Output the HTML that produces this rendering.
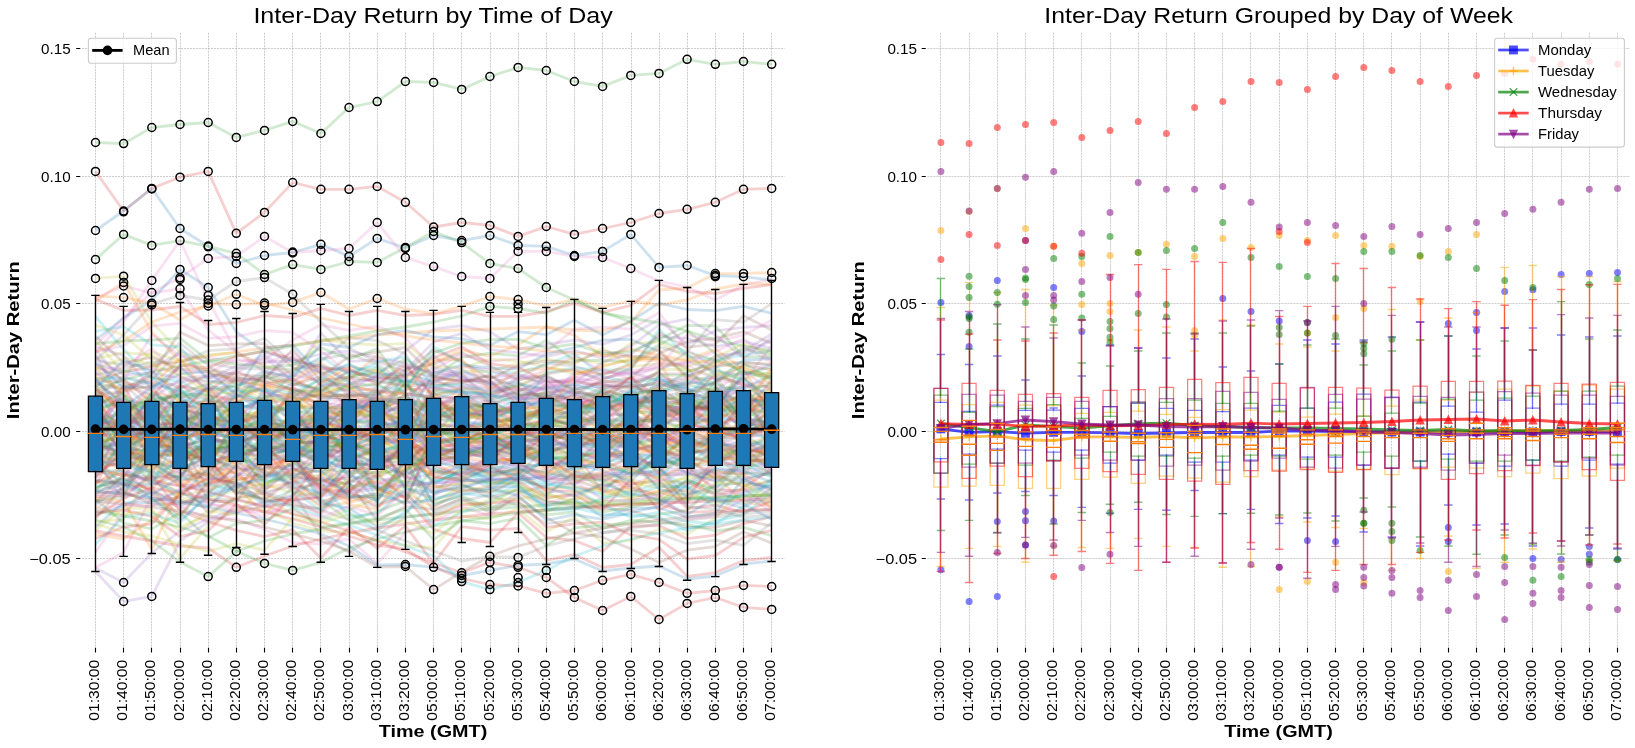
<!DOCTYPE html>
<html><head><meta charset="utf-8"><title>Inter-Day Return</title>
<style>html,body{margin:0;padding:0;background:#fff}svg{display:block;will-change:transform}</style></head>
<body>
<svg width="1635" height="748" viewBox="0 0 1635 748">
<style>text{font-family:"Liberation Sans",sans-serif;fill:#000}.t{font-size:14.1px}.ti{font-size:22.6px}.lb{font-size:16.9px;font-weight:bold}</style>
<rect width="1635" height="748" fill="#fff"/>
<path d="M95.5 32.7V648M123.5 32.7V648M151.5 32.7V648M180.5 32.7V648M208.5 32.7V648M236.5 32.7V648M264.5 32.7V648M292.5 32.7V648M320.5 32.7V648M349.5 32.7V648M377.5 32.7V648M405.5 32.7V648M433.5 32.7V648M461.5 32.7V648M490.5 32.7V648M518.5 32.7V648M546.5 32.7V648M574.5 32.7V648M602.5 32.7V648M631.5 32.7V648M659.5 32.7V648M687.5 32.7V648M715.5 32.7V648M743.5 32.7V648M771.5 32.7V648M81.9 48.5H784.5M81.9 176.5H784.5M81.9 303.5H784.5M81.9 431.5H784.5M81.9 558.5H784.5" stroke="#b0b0b0" stroke-opacity="0.78" stroke-width="0.8" stroke-dasharray="2.1 0.9" fill="none"/>
<g fill="none" stroke-width="2.8" stroke-opacity="0.22" stroke-linejoin="round">
<path d="M95.5 419.5L123.6 467.5L151.8 448.1L180 453.9L208.2 446.4L236.3 457.2L264.5 447.1L292.7 452.8L320.9 458L349 471.2L377.2 501L405.4 457.2L433.6 465.4L461.7 461.5L489.9 467.1L518.1 468.3L546.3 481.1L574.4 468.1L602.6 466.4L630.8 473.8L659 470.5L687.1 454L715.3 447.6L743.5 441.7L771.7 445" stroke="#1f77b4"/>
<path d="M95.5 399.3L123.6 446.2L151.8 418.9L180 401.3L208.2 402.6L236.3 398.9L264.5 384.9L292.7 380.3L320.9 363.4L349 379.6L377.2 355L405.4 378.4L433.6 362.2L461.7 349.9L489.9 356.3L518.1 344.9L546.3 326.8L574.4 335.2L602.6 356.1L630.8 349.1L659 355.4L687.1 359.9L715.3 349.2L743.5 369.2L771.7 414.4" stroke="#ff7f0e"/>
<path d="M95.5 442.4L123.6 436.9L151.8 432.1L180 445.4L208.2 440.6L236.3 454.5L264.5 482.1L292.7 478L320.9 500.2L349 519.8L377.2 511.5L405.4 500.8L433.6 468.7L461.7 479.7L489.9 482.6L518.1 484.3L546.3 502.4L574.4 502.4L602.6 512.2L630.8 506.5L659 502.6L687.1 479.3L715.3 493.3L743.5 472.5L771.7 475.2" stroke="#2ca02c"/>
<path d="M95.5 142.5L123.6 143.6L151.8 127.5L180 124.5L208.2 122.5L236.3 137.4L264.5 130.4L292.7 121.4L320.9 133.5L349 107.5L377.2 101.6L405.4 81.5L433.6 82.4L461.7 89.4L489.9 76.5L518.1 67.4L546.3 70.5L574.4 81.5L602.6 86.4L630.8 75.4L659 73.4L687.1 59.3L715.3 64.3L743.5 61.5L771.7 64.3" stroke="#2ca02c"/>
<path d="M95.5 482.4L123.6 472.4L151.8 493.2L180 515.1L208.2 482.8L236.3 480.5L264.5 473.2L292.7 472.7L320.9 450L349 450L377.2 488.6L405.4 497.5L433.6 529.2L461.7 538.5L489.9 542.5L518.1 512.7L546.3 537.4L574.4 540.5L602.6 551.5L630.8 526.4L659 525.5L687.1 538.7L715.3 535.2L743.5 523.6L771.7 516.6" stroke="#d62728"/>
<path d="M95.5 452.1L123.6 439L151.8 430.5L180 462.2L208.2 445L236.3 455.1L264.5 427.2L292.7 452.3L320.9 456.3L349 455.5L377.2 469.3L405.4 441.4L433.6 387.2L461.7 393.6L489.9 397.7L518.1 392.9L546.3 419.3L574.4 423.1L602.6 420.5L630.8 418L659 439.1L687.1 441.8L715.3 445.3L743.5 427.1L771.7 418.8" stroke="#9467bd"/>
<path d="M95.5 488.6L123.6 476.9L151.8 439.5L180 458L208.2 458.8L236.3 489.1L264.5 456.5L292.7 438.1L320.9 413.8L349 404.4L377.2 408.4L405.4 400.6L433.6 407.6L461.7 411.4L489.9 416.3L518.1 402.4L546.3 391.7L574.4 392.1L602.6 396.5L630.8 409.7L659 383.5L687.1 379.9L715.3 377.1L743.5 382.6L771.7 407.2" stroke="#8c564b"/>
<path d="M95.5 416L123.6 426.9L151.8 401.3L180 416.9L208.2 422.2L236.3 429.8L264.5 422.6L292.7 455L320.9 459.6L349 468.4L377.2 442.7L405.4 457.8L433.6 440.1L461.7 425L489.9 428.6L518.1 432L546.3 434.1L574.4 431.5L602.6 445.3L630.8 441.2L659 413.4L687.1 420.8L715.3 427.3L743.5 439.5L771.7 430.7" stroke="#e377c2"/>
<path d="M95.5 171.4L123.6 211L151.8 188.4L180 177.2L208.2 171.4L236.3 233.3L264.5 212.4L292.7 182.5L320.9 189.3L349 189.3L377.2 186.4L405.4 202.3L433.6 227L461.7 222.5L489.9 225.4L518.1 236.4L546.3 226.5L574.4 234.4L602.6 228.5L630.8 222.5L659 213.5L687.1 209.3L715.3 202.3L743.5 189.3L771.7 188.4" stroke="#d62728"/>
<path d="M95.5 349.6L123.6 383.2L151.8 410.9L180 383.6L208.2 409.4L236.3 396.2L264.5 372.4L292.7 376.4L320.9 361.3L349 337.9L377.2 340.5L405.4 354L433.6 398.4L461.7 397.6L489.9 396.8L518.1 383.3L546.3 390.7L574.4 401.4L602.6 411.8L630.8 405.8L659 410.3L687.1 410.2L715.3 403.6L743.5 411.4L771.7 411.8" stroke="#7f7f7f"/>
<path d="M95.5 456.6L123.6 451.4L151.8 448.8L180 441L208.2 392.9L236.3 392.6L264.5 389L292.7 426.1L320.9 416.2L349 457.2L377.2 476.3L405.4 453.5L433.6 433.5L461.7 433.3L489.9 450.6L518.1 454.3L546.3 461.2L574.4 455.2L602.6 426.4L630.8 424.2L659 439.9L687.1 450.4L715.3 452.1L743.5 455.3L771.7 465.2" stroke="#bcbd22"/>
<path d="M95.5 463.3L123.6 459.1L151.8 480.8L180 458.8L208.2 425.1L236.3 403.3L264.5 412L292.7 406.5L320.9 408.6L349 418.7L377.2 422.9L405.4 448.8L433.6 484.2L461.7 469.1L489.9 476.4L518.1 472.5L546.3 460.4L574.4 485.7L602.6 496.4L630.8 492L659 483.1L687.1 489.1L715.3 467.4L743.5 463.6L771.7 477.6" stroke="#17becf"/>
<path d="M95.5 393L123.6 422.2L151.8 400.2L180 396.1L208.2 443.5L236.3 412L264.5 397.6L292.7 383.8L320.9 389.9L349 397.6L377.2 419L405.4 373.2L433.6 382L461.7 369.5L489.9 384.1L518.1 382.1L546.3 402.4L574.4 403.2L602.6 390L630.8 408.7L659 391.7L687.1 388L715.3 415.8L743.5 424.2L771.7 426.5" stroke="#1f77b4"/>
<path d="M95.5 230.5L123.6 211L151.8 188.4L180 228.5L208.2 246.3L236.3 263.5L264.5 255.5L292.7 252.5L320.9 244.3L349 256.4L377.2 238.4L405.4 248L433.6 235.5L461.7 240.6L489.9 235.5L518.1 245.4L546.3 246.3L574.4 255.5L602.6 251.4L630.8 234.4L659 267.4L687.1 265.5L715.3 275.6L743.5 276.7L771.7 280" stroke="#1f77b4"/>
<path d="M95.5 395.1L123.6 407.1L151.8 420.6L180 447.7L208.2 450.2L236.3 465.3L264.5 488.1L292.7 482.5L320.9 463L349 489.1L377.2 481.2L405.4 493.1L433.6 507.3L461.7 489.5L489.9 492.1L518.1 477.6L546.3 488.8L574.4 487L602.6 490.6L630.8 499.5L659 490.8L687.1 490.5L715.3 472L743.5 473.8L771.7 490.8" stroke="#ff7f0e"/>
<path d="M95.5 411.6L123.6 424.6L151.8 419.7L180 404.2L208.2 422.9L236.3 426.1L264.5 458.8L292.7 447.1L320.9 464.8L349 496.7L377.2 496.6L405.4 461.1L433.6 503.5L461.7 496.2L489.9 507.2L518.1 503.2L546.3 514.8L574.4 512.2L602.6 528.6L630.8 520.1L659 522.3L687.1 524.4L715.3 531L743.5 527.3L771.7 535.6" stroke="#2ca02c"/>
<path d="M95.5 484.9L123.6 435.4L151.8 438.9L180 434.3L208.2 435.6L236.3 435L264.5 425.7L292.7 392L320.9 412.9L349 444.7L377.2 450.7L405.4 477.9L433.6 449.3L461.7 442.6L489.9 451.3L518.1 464.6L546.3 473.8L574.4 451.2L602.6 492L630.8 486.6L659 496.4L687.1 482.1L715.3 494.9L743.5 488.8L771.7 507.8" stroke="#d62728"/>
<path d="M95.5 422.9L123.6 452.9L151.8 413.6L180 402.4L208.2 411.7L236.3 437.4L264.5 466.1L292.7 469.6L320.9 467.5L349 463L377.2 459.2L405.4 478.9L433.6 474L461.7 467L489.9 460.4L518.1 434.8L546.3 437.6L574.4 449.6L602.6 450.8L630.8 456.9L659 465.4L687.1 472L715.3 481.7L743.5 465.4L771.7 466.3" stroke="#9467bd"/>
<path d="M95.5 259.5L123.6 234.4L151.8 245.4L180 240.6L208.2 246.3L236.3 253.3L264.5 274.5L292.7 264.6L320.9 269.4L349 261.5L377.2 262.4L405.4 247.4L433.6 231.5L461.7 242.6L489.9 263.5L518.1 268.5L546.3 287.5L574.4 300L602.6 312L630.8 322L659 340L687.1 352L715.3 360L743.5 371L771.7 380" stroke="#2ca02c"/>
<path d="M95.5 380.9L123.6 381.9L151.8 390.1L180 411.2L208.2 437L236.3 443.9L264.5 449.2L292.7 444.6L320.9 439.5L349 460.5L377.2 449.1L405.4 476.8L433.6 486.8L461.7 483.8L489.9 497.9L518.1 490L546.3 500.7L574.4 506L602.6 508.2L630.8 510.5L659 519.4L687.1 527.4L715.3 527.3L743.5 520.3L771.7 526" stroke="#8c564b"/>
<path d="M95.5 508.9L123.6 490.3L151.8 483.1L180 485.6L208.2 485L236.3 470.7L264.5 494.9L292.7 481.4L320.9 475.1L349 461.3L377.2 445.9L405.4 459.8L433.6 459.9L461.7 455.9L489.9 453.5L518.1 445.3L546.3 467.2L574.4 458.5L602.6 443.7L630.8 431.2L659 433.8L687.1 449.5L715.3 441L743.5 443.1L771.7 476.4" stroke="#e377c2"/>
<path d="M95.5 453L123.6 443.3L151.8 474.2L180 500.2L208.2 508.4L236.3 473.9L264.5 476.5L292.7 462.9L320.9 425L349 402.5L377.2 409.3L405.4 409.1L433.6 448L461.7 453.9L489.9 448.5L518.1 442L546.3 439.7L574.4 430L602.6 438.3L630.8 443.5L659 436.8L687.1 428.4L715.3 413.8L743.5 397.5L771.7 402.6" stroke="#7f7f7f"/>
<path d="M95.5 530.2L123.6 507.9L151.8 508.7L180 558.3L208.2 525.7L236.3 508.8L264.5 509.1L292.7 522.8L320.9 531.2L349 532L377.2 540.6L405.4 545.4L433.6 547.8L461.7 516.2L489.9 518.9L518.1 508.8L546.3 531.8L574.4 517.3L602.6 543.2L630.8 540.7L659 529.3L687.1 534.4L715.3 518.4L743.5 486.2L771.7 481.1" stroke="#bcbd22"/>
<path d="M95.5 352L123.6 322L151.8 280.4L180 240.6L208.2 300L236.3 352L264.5 372L292.7 380L320.9 395L349 401L377.2 398L405.4 407L433.6 402L461.7 410L489.9 412L518.1 405L546.3 401L574.4 399L602.6 404L630.8 409L659 411L687.1 406L715.3 402L743.5 399L771.7 401" stroke="#e377c2"/>
<path d="M95.5 503.9L123.6 487.9L151.8 463L180 479.8L208.2 470.6L236.3 448.8L264.5 403.2L292.7 412.4L320.9 412.1L349 412.6L377.2 386.9L405.4 390.2L433.6 346.4L461.7 363.2L489.9 373.2L518.1 372.4L546.3 364.8L574.4 353.3L602.6 376.6L630.8 382.6L659 378.8L687.1 389.1L715.3 425.4L743.5 398.6L771.7 387.7" stroke="#17becf"/>
<path d="M95.5 526.9L123.6 502.7L151.8 502.6L180 490.6L208.2 483.9L236.3 456.5L264.5 470.9L292.7 483.7L320.9 477.5L349 484.5L377.2 461.8L405.4 455.3L433.6 481.6L461.7 472L489.9 477.4L518.1 467.4L546.3 482.4L574.4 484.6L602.6 463.6L630.8 435.3L659 406.2L687.1 408.3L715.3 407.8L743.5 373.1L771.7 376.8" stroke="#1f77b4"/>
<path d="M95.5 439.8L123.6 461.5L151.8 455.9L180 452.4L208.2 460.5L236.3 486.5L264.5 514L292.7 487.4L320.9 506.9L349 502.7L377.2 495.2L405.4 467.2L433.6 472.7L461.7 463L489.9 475.4L518.1 474.2L546.3 490.2L574.4 482.2L602.6 473.5L630.8 490.7L659 492.1L687.1 499.7L715.3 474.8L743.5 502.4L771.7 505.9" stroke="#ff7f0e"/>
<path d="M95.5 500.8L123.6 496.7L151.8 437L180 416.1L208.2 420L236.3 406L264.5 373.8L292.7 382.6L320.9 388.9L349 375.9L377.2 372.8L405.4 359.1L433.6 377.3L461.7 357.3L489.9 353.2L518.1 355.8L546.3 340.3L574.4 360.3L602.6 360.3L630.8 361.8L659 344.8L687.1 330.4L715.3 353.5L743.5 374.4L771.7 367" stroke="#2ca02c"/>
<path d="M95.5 345L123.6 318L151.8 292.5L180 277.8L208.2 258.4L236.3 256.4L264.5 236.4L292.7 252.5L320.9 250.5L349 248.5L377.2 222.5L405.4 257.5L433.6 266.6L461.7 276.5L489.9 278.4L518.1 251.4L546.3 251.4L574.4 256.4L602.6 257.5L630.8 268.5L659 281L687.1 287L715.3 300L743.5 285L771.7 279" stroke="#e377c2"/>
<path d="M95.5 400.3L123.6 433.1L151.8 433.8L180 456.3L208.2 457.2L236.3 494.9L264.5 467.4L292.7 457.2L320.9 435L349 400.5L377.2 402.2L405.4 438.1L433.6 456.3L461.7 463.7L489.9 472.4L518.1 470.8L546.3 491.6L574.4 490.7L602.6 506.3L630.8 502.9L659 504.4L687.1 512.4L715.3 511.3L743.5 510.1L771.7 509.7" stroke="#d62728"/>
<path d="M95.5 406.1L123.6 459.9L151.8 455.3L180 413.6L208.2 384.8L236.3 369.8L264.5 354.4L292.7 375.1L320.9 333.2L349 361.3L377.2 360L405.4 367L433.6 372.1L461.7 377.3L489.9 385.3L518.1 397.7L546.3 400.4L574.4 372.5L602.6 377.8L630.8 373.4L659 368.3L687.1 361.6L715.3 370.9L743.5 375.6L771.7 363.8" stroke="#9467bd"/>
<path d="M95.5 434.7L123.6 433.8L151.8 423.9L180 391.8L208.2 410.2L236.3 411.2L264.5 418.6L292.7 394.8L320.9 429.7L349 447L377.2 444.3L405.4 440.8L433.6 421.4L461.7 398.8L489.9 425.8L518.1 414.9L546.3 416L574.4 427.7L602.6 421.3L630.8 433.8L659 460.9L687.1 466.3L715.3 490.3L743.5 490.2L771.7 479.9" stroke="#8c564b"/>
<path d="M95.5 567.5L123.6 552.4L151.8 496.1L180 506.9L208.2 518.4L236.3 518.7L264.5 529.5L292.7 542.5L320.9 544L349 539L377.2 563.4L405.4 532.5L433.6 522L461.7 507.2L489.9 515.3L518.1 494L546.3 504.2L574.4 493.4L602.6 485.2L630.8 485.3L659 473.2L687.1 504.8L715.3 496.5L743.5 491.6L771.7 485.8" stroke="#e377c2"/>
<path d="M95.5 360L123.6 335L151.8 304L180 295.4L208.2 300L236.3 281.5L264.5 277.6L292.7 294.3L320.9 322L349 348L377.2 362L405.4 371L433.6 377L461.7 380L489.9 384L518.1 390L546.3 387L574.4 392L602.6 395L630.8 399L659 397L687.1 401L715.3 404L743.5 402L771.7 400" stroke="#7f7f7f"/>
<path d="M95.5 457.6L123.6 486.8L151.8 446.3L180 447L208.2 465.6L236.3 493.4L264.5 492L292.7 486.2L320.9 505.1L349 495.4L377.2 507.7L405.4 481.1L433.6 490.9L461.7 487.1L489.9 478.4L518.1 450L546.3 462L574.4 470.7L602.6 477.4L630.8 466.5L659 485.6L687.1 492L715.3 491.8L743.5 500.7L771.7 502.4" stroke="#7f7f7f"/>
<path d="M95.5 424.6L123.6 441.1L151.8 486.7L180 526.9L208.2 515.5L236.3 496.5L264.5 497.9L292.7 514.2L320.9 520.3L349 509.9L377.2 498L405.4 485.6L433.6 501.8L461.7 486L489.9 490.8L518.1 491.2L546.3 512.4L574.4 497.6L602.6 501.1L630.8 482.7L659 488.1L687.1 476.5L715.3 470.5L743.5 476.2L771.7 437.4" stroke="#bcbd22"/>
<path d="M95.5 409.8L123.6 398.3L151.8 412.7L180 421.5L208.2 413.3L236.3 395.4L264.5 399.4L292.7 441.6L320.9 442.4L349 439.5L377.2 432.6L405.4 415.1L433.6 399.5L461.7 389.9L489.9 411.7L518.1 408.5L546.3 372.6L574.4 367.8L602.6 370.2L630.8 369.5L659 329.2L687.1 356.1L715.3 360.7L743.5 354.9L771.7 350.7" stroke="#17becf"/>
<path d="M95.5 514.6L123.6 506.1L151.8 491.8L180 505.1L208.2 495.1L236.3 485.2L264.5 504.9L292.7 494.5L320.9 478.6L349 494.1L377.2 499.5L405.4 469.5L433.6 493.8L461.7 484.9L489.9 493.5L518.1 479.4L546.3 458.8L574.4 435.3L602.6 434.5L630.8 427.7L659 431L687.1 430.1L715.3 401.5L743.5 431L771.7 399.6" stroke="#1f77b4"/>
<path d="M95.5 340L123.6 318L151.8 300L180 269.4L208.2 287.5L236.3 332L264.5 352L292.7 361L320.9 366L349 372L377.2 377L405.4 381L433.6 388L461.7 392L489.9 395L518.1 399L546.3 396L574.4 394L602.6 398L630.8 401L659 404L687.1 400L715.3 397L743.5 399L771.7 402" stroke="#1f77b4"/>
<path d="M95.5 455.7L123.6 455.2L151.8 416.3L180 415.3L208.2 432.8L236.3 425.4L264.5 406.8L292.7 411.4L320.9 400.2L349 416.1L377.2 445.1L405.4 439L433.6 412.3L461.7 406.3L489.9 414.1L518.1 406.8L546.3 408.9L574.4 419.2L602.6 419.6L630.8 402.9L659 427.1L687.1 405.5L715.3 423.5L743.5 437.3L771.7 416.2" stroke="#ff7f0e"/>
<path d="M95.5 487.4L123.6 479L151.8 497.6L180 517.6L208.2 480.5L236.3 452.5L264.5 457.3L292.7 447.6L320.9 425.8L349 441L377.2 430.4L405.4 437.2L433.6 446.6L461.7 453.3L489.9 449.9L518.1 446.6L546.3 454.1L574.4 462L602.6 446.8L630.8 445.8L659 437.6L687.1 419.9L715.3 411.8L743.5 363.4L771.7 379.3" stroke="#2ca02c"/>
<path d="M95.5 477.4L123.6 452.1L151.8 454.6L180 412.8L208.2 387L236.3 420L264.5 442.3L292.7 429.5L320.9 411.2L349 401.5L377.2 406.7L405.4 395.8L433.6 378.5L461.7 380.8L489.9 380.4L518.1 405.1L546.3 395.5L574.4 408.5L602.6 390.9L630.8 396.7L659 415.4L687.1 409.3L715.3 429.2L743.5 441L771.7 459.4" stroke="#d62728"/>
<path d="M95.5 364.2L123.6 372L151.8 367.8L180 353.5L208.2 378.8L236.3 366.1L264.5 361.8L292.7 361L320.9 354L349 351L377.2 357.6L405.4 363.3L433.6 374.8L461.7 376.1L489.9 395.8L518.1 376.9L546.3 382.5L574.4 379.4L602.6 389.1L630.8 381.5L659 376.3L687.1 385.7L715.3 359.1L743.5 351L771.7 334" stroke="#9467bd"/>
<path d="M95.5 352L123.6 341L151.8 322L180 312L208.2 306L236.3 294.3L264.5 305.3L292.7 302.4L320.9 292.5L349 309L377.2 298.5L405.4 309L433.6 314L461.7 306.4L489.9 296.5L518.1 299.6L546.3 306L574.4 299L602.6 307L630.8 301L659 305L687.1 300L715.3 289L743.5 284L771.7 284" stroke="#ff7f0e"/>
<path d="M95.5 476.1L123.6 450.6L151.8 459.4L180 473.9L208.2 454L236.3 451.3L264.5 448.5L292.7 449.7L320.9 486.8L349 482.3L377.2 520.8L405.4 506.5L433.6 509.4L461.7 499.3L489.9 512.2L518.1 497.2L546.3 517.4L574.4 533.1L602.6 537.2L630.8 548.9L659 562.5L687.1 550.1L715.3 546.6L743.5 531.8L771.7 543.1" stroke="#8c564b"/>
<path d="M95.5 423.8L123.6 420.6L151.8 425.6L180 432.1L208.2 418.6L236.3 389.8L264.5 383.8L292.7 390.1L320.9 406L349 398.5L377.2 407.6L405.4 389.2L433.6 388.1L461.7 378.5L489.9 404.4L518.1 410.9L546.3 397.4L574.4 397.3L602.6 413.6L630.8 415.3L659 442.2L687.1 437.6L715.3 390.3L743.5 370.5L771.7 391.2" stroke="#e377c2"/>
<path d="M95.5 371.9L123.6 395.3L151.8 409.1L180 389.6L208.2 412.5L236.3 432.1L264.5 405.1L292.7 396.7L320.9 403.2L349 422.8L377.2 446.7L405.4 461.7L433.6 511.5L461.7 497.7L489.9 509.5L518.1 492.6L546.3 486.2L574.4 474.2L602.6 486.5L630.8 476.4L659 454.9L687.1 468.4L715.3 477.6L743.5 477.4L771.7 497.7" stroke="#7f7f7f"/>
<path d="M95.5 461.4L123.6 423L151.8 479.7L180 498.7L208.2 498L236.3 490.5L264.5 483.3L292.7 473.8L320.9 476.3L349 453.9L377.2 491.2L405.4 480L433.6 488.2L461.7 482.7L489.9 481.6L518.1 483.3L546.3 499.1L574.4 492L602.6 487.9L630.8 498L659 462.7L687.1 434.3L715.3 456.1L743.5 449.8L771.7 398.7" stroke="#bcbd22"/>
<path d="M95.5 278.4L123.6 276.2L151.8 322L180 352L208.2 371L236.3 380L264.5 386L292.7 391L320.9 395L349 399L377.2 402L405.4 404L433.6 407L461.7 409L489.9 411L518.1 409L546.3 406L574.4 404L602.6 407L630.8 410L659 412L687.1 409L715.3 407L743.5 405L771.7 404" stroke="#bcbd22"/>
<path d="M95.5 429.6L123.6 411.5L151.8 406.2L180 418.4L208.2 429.3L236.3 440.9L264.5 445L292.7 430.4L320.9 433.5L349 443.9L377.2 455.7L405.4 455.9L433.6 480.3L461.7 477.7L489.9 469.3L518.1 462.6L546.3 454.9L574.4 452L602.6 454.1L630.8 454.4L659 456.6L687.1 447.8L715.3 461L743.5 445.3L771.7 439" stroke="#17becf"/>
<path d="M95.5 410.7L123.6 440.4L151.8 450L180 468.4L208.2 458L236.3 467.5L264.5 441.6L292.7 453.9L320.9 503.4L349 507.9L377.2 526.9L405.4 514L433.6 479.1L461.7 464.5L489.9 480.5L518.1 480.4L546.3 476.2L574.4 466.5L602.6 464.5L630.8 452L659 421.3L687.1 397.7L715.3 392.6L743.5 388.2L771.7 375.4" stroke="#1f77b4"/>
<path d="M95.5 415.2L123.6 439.7L151.8 460.8L180 463.9L208.2 476.2L236.3 471.8L264.5 464.5L292.7 416.2L320.9 430.4L349 432.6L377.2 431.9L405.4 430.9L433.6 390.1L461.7 395.5L489.9 414.8L518.1 429.8L546.3 439L574.4 436.7L602.6 433L630.8 450.4L659 451.6L687.1 453.1L715.3 449.1L743.5 456.1L771.7 454.7" stroke="#ff7f0e"/>
<path d="M95.5 499.4L123.6 523.1L151.8 528.9L180 512.8L208.2 537.8L236.3 523.6L264.5 520.4L292.7 508.2L320.9 526.9L349 523.1L377.2 518.2L405.4 508.8L433.6 539.6L461.7 520.5L489.9 523.6L518.1 518.1L546.3 545.4L574.4 527.9L602.6 525.2L630.8 523.1L659 514.3L687.1 510.4L715.3 484.5L743.5 460.2L771.7 461.3" stroke="#2ca02c"/>
<path d="M95.5 301L123.6 282.4L151.8 332L180 361L208.2 372L236.3 381L264.5 385L292.7 389L320.9 393L349 396L377.2 399L405.4 401L433.6 403L461.7 406L489.9 408L518.1 409L546.3 407L574.4 405L602.6 404L630.8 406L659 409L687.1 411L715.3 408L743.5 406L771.7 405" stroke="#ff7f0e"/>
<path d="M95.5 413.4L123.6 429.2L151.8 405.3L180 446.2L208.2 439.9L236.3 446.3L264.5 451.3L292.7 480.3L320.9 501.8L349 492.8L377.2 460.9L405.4 447.6L433.6 444L461.7 446.9L489.9 456.5L518.1 447.3L546.3 450.4L574.4 445.8L602.6 424.7L630.8 425.1L659 447.6L687.1 460.5L715.3 473.4L743.5 487.5L771.7 469" stroke="#d62728"/>
<path d="M95.5 346.9L123.6 355.5L151.8 389.1L180 382.4L208.2 377.4L236.3 380L264.5 392L292.7 399.4L320.9 394.1L349 389.2L377.2 375.8L405.4 351L433.6 329.2L461.7 325.6L489.9 331.7L518.1 349.2L546.3 344.6L574.4 340L602.6 344.4L630.8 334.9L659 319.5L687.1 344.5L715.3 330.8L743.5 327.3L771.7 325.6" stroke="#9467bd"/>
<path d="M95.5 518.9L123.6 485.6L151.8 456.6L180 454.7L208.2 499.5L236.3 500L264.5 506.9L292.7 503.5L320.9 512.8L349 480.1L377.2 487.3L405.4 504.5L433.6 428.4L461.7 434.2L489.9 445L518.1 440.7L546.3 436.9L574.4 448.8L602.6 433.8L630.8 445L659 454.1L687.1 454.9L715.3 446.8L743.5 452.9L771.7 444.1" stroke="#8c564b"/>
<path d="M95.5 373.3L123.6 380.6L151.8 334.4L180 356.3L208.2 357.9L236.3 361.7L264.5 359.6L292.7 339.9L320.9 324.8L349 330.3L377.2 326.4L405.4 337.9L433.6 369.1L461.7 355.1L489.9 361.6L518.1 358.6L546.3 351.4L574.4 329.1L602.6 327.2L630.8 329.2L659 312.7L687.1 349.6L715.3 368.2L743.5 346.5L771.7 362.2" stroke="#e377c2"/>
<path d="M95.5 298L123.6 286L151.8 293L180 288.8L208.2 330L236.3 352L264.5 367L292.7 375L320.9 381L349 386L377.2 391L405.4 394L433.6 397L461.7 399L489.9 402L518.1 404L546.3 405L574.4 403L602.6 401L630.8 404L659 406L687.1 408L715.3 406L743.5 404L771.7 403" stroke="#e377c2"/>
<path d="M95.5 408.9L123.6 386.7L151.8 379.7L180 350.5L208.2 363.2L236.3 368L264.5 369.2L292.7 368.9L320.9 365.3L349 383.1L377.2 385.8L405.4 361.3L433.6 416L461.7 407.4L489.9 426.5L518.1 423.3L546.3 410.7L574.4 416.8L602.6 399.6L630.8 426L659 409.3L687.1 425L715.3 417.7L743.5 409.3L771.7 448.4" stroke="#7f7f7f"/>
<path d="M95.5 467.3L123.6 475.8L151.8 469.7L180 433.6L208.2 423.6L236.3 416.9L264.5 449.9L292.7 417.1L320.9 387.8L349 390.2L377.2 389.1L405.4 429.1L433.6 392.9L461.7 371L489.9 371.5L518.1 363.3L546.3 358.9L574.4 364.2L602.6 347.9L630.8 366.6L659 363.9L687.1 366.5L715.3 357.3L743.5 344.1L771.7 352.8" stroke="#bcbd22"/>
<path d="M95.5 316.5L123.6 349.3L151.8 378.4L180 381.1L208.2 397.4L236.3 434.3L264.5 455L292.7 457.8L320.9 498.7L349 512L377.2 530.6L405.4 511.2L433.6 495.3L461.7 465.9L489.9 483.7L518.1 482.3L546.3 484.9L574.4 488.2L602.6 493.4L630.8 463.8L659 469.1L687.1 487.7L715.3 507.1L743.5 493L771.7 483.4" stroke="#17becf"/>
<path d="M95.5 377.2L123.6 416.5L151.8 445L180 431.3L208.2 417.1L236.3 436.9L264.5 414.5L292.7 408.5L320.9 443.9L349 449.3L377.2 434.1L405.4 448.2L433.6 505.4L461.7 494.7L489.9 489.5L518.1 473.3L546.3 495.9L574.4 471.9L602.6 481.3L630.8 468.3L659 450L687.1 440.1L715.3 438.1L743.5 454.5L771.7 442.4" stroke="#1f77b4"/>
<path d="M95.5 380L123.6 372L151.8 366L180 361L208.2 356L236.3 352L264.5 348L292.7 345L320.9 341L349 338L377.2 335L405.4 333L433.6 331L461.7 330L489.9 329L518.1 328L546.3 327L574.4 330L602.6 331L630.8 322L659 290L687.1 288L715.3 273.6L743.5 273.4L771.7 272.5" stroke="#ff7f0e"/>
<path d="M95.5 497.9L123.6 501.1L151.8 549.5L180 489.3L208.2 462.1L236.3 420.8L264.5 440.9L292.7 413.3L320.9 383.1L349 367L377.2 371.3L405.4 388.3L433.6 391.9L461.7 423.1L489.9 439.5L518.1 436.1L546.3 449.6L574.4 452.8L602.6 456.6L630.8 426.9L659 411.4L687.1 416.4L715.3 387.1L743.5 407.2L771.7 413.6" stroke="#ff7f0e"/>
<path d="M95.5 414.3L123.6 396.3L151.8 431.3L180 444.7L208.2 464.7L236.3 457.9L264.5 420.2L292.7 442.1L320.9 428.9L349 453.1L377.2 462.7L405.4 486.8L433.6 437.5L461.7 403.2L489.9 407.7L518.1 415.7L546.3 408L574.4 414.4L602.6 397.5L630.8 393.5L659 390.5L687.1 384.6L715.3 391.4L743.5 400.8L771.7 432.4" stroke="#2ca02c"/>
<path d="M95.5 389.8L123.6 405.2L151.8 442L180 450L208.2 461.3L236.3 455.8L264.5 446.4L292.7 467.5L320.9 488.1L349 499.6L377.2 475.1L405.4 443.6L433.6 414.2L461.7 420.2L489.9 406.1L518.1 421.8L546.3 406.2L574.4 416L602.6 447.6L630.8 411.6L659 386.9L687.1 407.4L715.3 408.8L743.5 412.4L771.7 405.4" stroke="#d62728"/>
<path d="M95.5 435.5L123.6 468.4L151.8 484.3L180 475.1L208.2 459.6L236.3 439.2L264.5 428L292.7 388.1L320.9 399.2L349 399.5L377.2 431.2L405.4 452.9L433.6 411.4L461.7 424L489.9 421.5L518.1 420.3L546.3 432.5L574.4 436L602.6 440.6L630.8 449.6L659 444.5L687.1 433.5L715.3 442.4L743.5 453.7L771.7 445.8" stroke="#9467bd"/>
<path d="M95.5 390L123.6 380L151.8 372L180 366L208.2 361L236.3 356L264.5 351L292.7 346L320.9 341L349 336L377.2 331L405.4 327L433.6 322L461.7 316L489.9 306.4L518.1 308.6L546.3 313L574.4 300L602.6 313L630.8 318L659 323L687.1 331L715.3 340L743.5 346L771.7 351" stroke="#2ca02c"/>
<path d="M95.5 383.2L123.6 389L151.8 374.2L180 332.1L208.2 345.6L236.3 343.8L264.5 343.6L292.7 367.1L320.9 384.3L349 406.3L377.2 413.4L405.4 426.3L433.6 393.8L461.7 399.9L489.9 408.5L518.1 424L546.3 405.2L574.4 394.2L602.6 380L630.8 368.1L659 333.1L687.1 347.2L715.3 344.3L743.5 315.7L771.7 330.1" stroke="#8c564b"/>
<path d="M95.5 427.1L123.6 397.3L151.8 369.5L180 370.7L208.2 372.9L236.3 359.1L264.5 363.8L292.7 352.9L320.9 375.2L349 393L377.2 410.1L405.4 410.1L433.6 404.6L461.7 396.5L489.9 423.6L518.1 401.4L546.3 384.7L574.4 376.8L602.6 384.2L630.8 380.4L659 373.7L687.1 373.6L715.3 399.3L743.5 381.5L771.7 346" stroke="#e377c2"/>
<path d="M95.5 385.5L123.6 437.6L151.8 408.1L180 406L208.2 407.7L236.3 388.8L264.5 407.7L292.7 409.5L320.9 381.9L349 391.2L377.2 400.2L405.4 397.6L433.6 416.9L461.7 392.7L489.9 412.5L518.1 407.6L546.3 415.1L574.4 411.9L602.6 412.7L630.8 448.1L659 449.2L687.1 463.4L715.3 465.4L743.5 446.1L771.7 458.4" stroke="#7f7f7f"/>
<path d="M95.5 340.3L123.6 373.6L151.8 351.9L180 361.1L208.2 354.6L236.3 352.9L264.5 365.7L292.7 372.1L320.9 339.1L349 343.3L377.2 345L405.4 343.3L433.6 365.9L461.7 368.1L489.9 359.1L518.1 361L546.3 366.5L574.4 374L602.6 367.2L630.8 358.1L659 359L687.1 370.9L715.3 365.4L743.5 396.4L771.7 423.1" stroke="#bcbd22"/>
<path d="M95.5 296L123.6 297.6L151.8 303.2L180 320L208.2 303.5L236.3 304.6L264.5 303.1L292.7 310L320.9 318L349 324L377.2 330L405.4 336L433.6 340L461.7 343L489.9 346L518.1 348L546.3 351L574.4 353L602.6 355L630.8 357L659 359L687.1 361L715.3 362L743.5 363L771.7 364" stroke="#ff7f0e"/>
<path d="M95.5 469.4L123.6 445.5L151.8 453.3L180 448.5L208.2 414.1L236.3 401.5L264.5 401.4L292.7 373.6L320.9 356.6L349 374.6L377.2 362.2L405.4 356.7L433.6 385.1L461.7 386L489.9 398.7L518.1 418.8L546.3 417.7L574.4 425.4L602.6 430.5L630.8 453.6L659 455.7L687.1 461.4L715.3 457.7L743.5 470L771.7 460.3" stroke="#17becf"/>
<path d="M95.5 403.2L123.6 449.1L151.8 450.7L180 419.2L208.2 438.4L236.3 445.1L264.5 417L292.7 431.3L320.9 432L349 424.5L377.2 411.8L405.4 450.5L433.6 467.2L461.7 476.7L489.9 487.1L518.1 486.4L546.3 506.1L574.4 499.2L602.6 516.8L630.8 508.4L659 508L687.1 516.8L715.3 513.5L743.5 478.7L771.7 472.8" stroke="#1f77b4"/>
<path d="M95.5 454.8L123.6 465.8L151.8 464.5L180 486.8L208.2 471.7L236.3 450.6L264.5 462.8L292.7 460.2L320.9 437.2L349 451.6L377.2 437.2L405.4 454.7L433.6 477.8L461.7 478.7L489.9 458.1L518.1 461L546.3 470L574.4 477.6L602.6 472.1L630.8 465.6L659 461.8L687.1 435.1L715.3 435.9L743.5 406.2L771.7 394.6" stroke="#ff7f0e"/>
<path d="M95.5 408L123.6 403.4L151.8 441.3L180 449.3L208.2 445.7L236.3 447.5L264.5 486.9L292.7 460.8L320.9 468.4L349 472.4L377.2 472.5L405.4 470.6L433.6 451.3L461.7 462.3L489.9 474.4L518.1 469.1L546.3 472.5L574.4 478.8L602.6 480L630.8 496.4L659 493.5L687.1 480.7L715.3 488.8L743.5 461.9L771.7 447.6" stroke="#2ca02c"/>
<path d="M95.5 571.5L123.6 601.5L151.8 596.4L180 541L208.2 522L236.3 512L264.5 506L292.7 501L320.9 496L349 492L377.2 489L405.4 486L433.6 483L461.7 481L489.9 479L518.1 477L546.3 476L574.4 475L602.6 474L630.8 473L659 472L687.1 471L715.3 470L743.5 470L771.7 469" stroke="#9467bd"/>
<path d="M95.5 496.5L123.6 495.4L151.8 475.3L180 510.7L208.2 521.7L236.3 530.4L264.5 536.6L292.7 529.6L320.9 558.3L349 527L377.2 548.4L405.4 525.8L433.6 563.4L461.7 526.7L489.9 530.1L518.1 528.5L546.3 560.5L574.4 554.5L602.6 567.5L630.8 564.5L659 547.3L687.1 576.3L715.3 572.6L743.5 560.5L771.7 557.5" stroke="#d62728"/>
<path d="M95.5 460.4L123.6 499.6L151.8 472L180 483.3L208.2 491.1L236.3 477.1L264.5 452.1L292.7 445.6L320.9 421.1L349 419.5L377.2 395.3L405.4 379.6L433.6 383L461.7 372.3L489.9 377.7L518.1 374L546.3 385.7L574.4 386.6L602.6 383.2L630.8 394.5L659 385.8L687.1 383.5L715.3 378.3L743.5 425.2L771.7 421.4" stroke="#9467bd"/>
<path d="M95.5 436.4L123.6 421.4L151.8 440.1L180 443.9L208.2 488.6L236.3 466.4L264.5 477.6L292.7 454.4L320.9 495.9L349 463.9L377.2 465.5L405.4 451.1L433.6 471.4L461.7 473.9L489.9 455.8L518.1 461.8L546.3 478.7L574.4 479.9L602.6 489.2L630.8 471.2L659 448.4L687.1 458.6L715.3 479L743.5 461L771.7 443.3" stroke="#8c564b"/>
<path d="M95.5 370.5L123.6 366.8L151.8 348.6L180 376.9L208.2 385.9L236.3 409.5L264.5 439.5L292.7 418L320.9 428.1L349 392.1L377.2 388L405.4 404.9L433.6 380.8L461.7 366.5L489.9 369.8L518.1 380.8L546.3 369.7L574.4 355.8L602.6 371.5L630.8 374.7L659 362.3L687.1 364.9L715.3 379.4L743.5 383.8L771.7 395.6" stroke="#e377c2"/>
<path d="M95.5 568L123.6 582.5L151.8 553L180 531L208.2 519L236.3 509L264.5 502L292.7 497L320.9 493L349 490L377.2 487L405.4 485L433.6 483L461.7 481L489.9 480L518.1 479L546.3 478L574.4 477L602.6 476L630.8 475L659 474L687.1 474L715.3 473L743.5 473L771.7 472" stroke="#9467bd"/>
<path d="M95.5 360.7L123.6 364.9L151.8 366L180 343L208.2 365.5L236.3 384.6L264.5 380.3L292.7 370.5L320.9 359.1L349 354L377.2 364.2L405.4 383.1L433.6 367.6L461.7 373.6L489.9 402.5L518.1 389.9L546.3 399.4L574.4 399.5L602.6 422.2L630.8 439L659 452.4L687.1 462.4L715.3 454.5L743.5 481.1L771.7 471.6" stroke="#7f7f7f"/>
<path d="M95.5 507.1L123.6 514.4L151.8 511L180 531.2L208.2 510.5L236.3 514.9L264.5 484.4L292.7 493L320.9 494.5L349 479L377.2 439.6L405.4 451.7L433.6 422.3L461.7 431.4L489.9 420L518.1 428.4L546.3 430L574.4 410.2L602.6 400.5L630.8 401.8L659 369.7L687.1 369.5L715.3 375.9L743.5 366.4L771.7 384.2" stroke="#bcbd22"/>
<path d="M95.5 473.3L123.6 444L151.8 410L180 429.1L208.2 444.2L236.3 442.7L264.5 433.4L292.7 451.2L320.9 438.7L349 476.9L377.2 478.8L405.4 482.2L433.6 482.9L461.7 471L489.9 484.8L518.1 476.8L546.3 483.6L574.4 489.4L602.6 504.5L630.8 517.4L659 512.1L687.1 521.7L715.3 524L743.5 506.1L771.7 478.7" stroke="#17becf"/>
<path d="M95.5 387.7L123.6 360.6L151.8 371.1L180 398.2L208.2 388L236.3 386.8L264.5 370.8L292.7 377.8L320.9 343.8L349 347.5L377.2 334.7L405.4 330.3L433.6 336.8L461.7 338.9L489.9 345.2L518.1 331.6L546.3 334.7L574.4 320.3L602.6 334.9L630.8 321.1L659 303.1L687.1 309.5L715.3 310.7L743.5 306.4L771.7 313.3" stroke="#1f77b4"/>
<path d="M95.5 520L123.6 527L151.8 541L180 562L208.2 576.6L236.3 551.5L264.5 541L292.7 534L320.9 529L349 524L377.2 520L405.4 517L433.6 514L461.7 511L489.9 509L518.1 507L546.3 505L574.4 503L602.6 502L630.8 500L659 499L687.1 498L715.3 497L743.5 496L771.7 495" stroke="#2ca02c"/>
<path d="M95.5 534L123.6 539L151.8 519.8L180 493.1L208.2 477.2L236.3 453.8L264.5 469.8L292.7 456.7L320.9 446.2L349 410.8L377.2 421.3L405.4 413.1L433.6 400.5L461.7 415.4L489.9 420.8L518.1 421L546.3 445.3L574.4 441.2L602.6 432.2L630.8 442L659 457.4L687.1 438.5L715.3 437.3L743.5 421.3L771.7 385.4" stroke="#ff7f0e"/>
<path d="M95.5 453.9L123.6 462.4L151.8 444.4L180 453.1L208.2 448.7L236.3 446.9L264.5 445.7L292.7 422.5L320.9 417.9L349 421.2L377.2 425.9L405.4 425.4L433.6 446L461.7 452L489.9 452.8L518.1 457.9L546.3 455.6L574.4 465.6L602.6 436.8L630.8 421.6L659 419.4L687.1 421.6L715.3 380.6L743.5 371.8L771.7 374.1" stroke="#2ca02c"/>
<path d="M95.5 428.8L123.6 426.1L151.8 414.5L180 386.1L208.2 391L236.3 371.5L264.5 382.7L292.7 379L320.9 392.1L349 370.2L377.2 378.5L405.4 375.9L433.6 358L461.7 346.8L489.9 363.9L518.1 367.3L546.3 381.4L574.4 381.9L602.6 385.2L630.8 386.6L659 394.1L687.1 406.5L715.3 426.3L743.5 413.4L771.7 380.5" stroke="#d62728"/>
<path d="M95.5 354.5L123.6 404.3L151.8 407.2L180 423.1L208.2 411L236.3 439.8L264.5 434.1L292.7 453.4L320.9 435.8L349 434.2L377.2 433.4L405.4 431.8L433.6 438.1L461.7 452.6L489.9 442.3L518.1 439.4L546.3 441.1L574.4 430.7L602.6 417.1L630.8 430.4L659 446.1L687.1 425.9L715.3 394.9L743.5 414.4L771.7 431.5" stroke="#9467bd"/>
<path d="M95.5 531L123.6 536L151.8 541L180 546L208.2 548L236.3 567.3L264.5 556L292.7 546L320.9 539L349 533L377.2 528L405.4 524L433.6 520L461.7 517L489.9 514L518.1 512L546.3 510L574.4 508L602.6 506L630.8 505L659 503L687.1 502L715.3 501L743.5 500L771.7 499" stroke="#d62728"/>
<path d="M95.5 382.1L123.6 402.4L151.8 417.1L180 463L208.2 453.2L236.3 475L264.5 490.7L292.7 468.5L320.9 480.9L349 478L377.2 454.9L405.4 446.5L433.6 450.7L461.7 450.7L489.9 459.6L518.1 435.5L546.3 430.9L574.4 444.2L602.6 442.9L630.8 434.5L659 432.9L687.1 402.7L715.3 373.5L743.5 386L771.7 386.5" stroke="#8c564b"/>
<path d="M95.5 446.7L123.6 473.6L151.8 463.7L180 465.7L208.2 395.7L236.3 399.7L264.5 443.6L292.7 451.8L320.9 451.6L349 466.6L377.2 483.6L405.4 484.4L433.6 460.7L461.7 460.1L489.9 473.4L518.1 463.4L546.3 477.4L574.4 481.1L602.6 499.5L630.8 501.2L659 494.9L687.1 519.2L715.3 515.8L743.5 499.1L771.7 496.3" stroke="#e377c2"/>
<path d="M95.5 448.5L123.6 441.9L151.8 466.1L180 435L208.2 406.1L236.3 406.9L264.5 444.3L292.7 458.4L320.9 438L349 409L377.2 405.8L405.4 384.1L433.6 402.6L461.7 401L489.9 409.4L518.1 410.1L546.3 420.2L574.4 415.2L602.6 391.9L630.8 410.6L659 436.1L687.1 431L715.3 440.2L743.5 468.6L771.7 456.5" stroke="#7f7f7f"/>
<path d="M95.5 440.7L123.6 438.3L151.8 447.5L180 397.1L208.2 396.5L236.3 416.1L264.5 411.2L292.7 439.6L320.9 452.4L349 437.2L377.2 441.9L405.4 452.3L433.6 395.6L461.7 387.9L489.9 392.9L518.1 385.6L546.3 371.2L574.4 358.1L602.6 363.9L630.8 343.1L659 342.2L687.1 358L715.3 372.2L743.5 379.2L771.7 371.4" stroke="#bcbd22"/>
<path d="M95.5 511L123.6 516L151.8 521L180 527L208.2 536L236.3 551L264.5 563.4L292.7 570.4L320.9 562.3L349 548L377.2 539L405.4 532L433.6 526L461.7 521L489.9 517L518.1 513L546.3 510L574.4 507L602.6 505L630.8 503L659 501L687.1 499L715.3 498L743.5 496L771.7 495" stroke="#2ca02c"/>
<path d="M95.5 331.4L123.6 326.6L151.8 344.8L180 347L208.2 380.1L236.3 387.8L264.5 404.1L292.7 410.5L320.9 445.4L349 438L377.2 434.9L405.4 449.9L433.6 470.1L461.7 481.7L489.9 468.2L518.1 475.9L546.3 459.6L574.4 454.4L602.6 459.1L630.8 475.1L659 458.3L687.1 436L715.3 450.6L743.5 452.1L771.7 433.2" stroke="#17becf"/>
<path d="M95.5 450.3L123.6 442.6L151.8 392.2L180 410.3L208.2 399.1L236.3 432.8L264.5 388L292.7 403.4L320.9 449.3L349 452.4L377.2 440.4L405.4 414.1L433.6 425.8L461.7 425.9L489.9 422.2L518.1 405.9L546.3 403.3L574.4 388.9L602.6 386.2L630.8 385.6L659 384.6L687.1 386.9L715.3 406.8L743.5 376.8L771.7 410" stroke="#1f77b4"/>
<path d="M95.5 444.1L123.6 413.2L151.8 391.2L180 400.2L208.2 419.3L236.3 423.8L264.5 410.3L292.7 401.3L320.9 395.2L349 385.2L377.2 392.3L405.4 393L433.6 440.7L461.7 436.9L489.9 432.1L518.1 433.4L546.3 421.9L574.4 418.4L602.6 454.9L630.8 451.2L659 471.9L687.1 457.6L715.3 424.4L743.5 432L771.7 424.8" stroke="#ff7f0e"/>
<path d="M95.5 396.2L123.6 410.6L151.8 403.3L180 393.9L208.2 383.7L236.3 398L264.5 375.2L292.7 391.1L320.9 391L349 378.4L377.2 367.9L405.4 385.2L433.6 405.6L461.7 410.4L489.9 417.1L518.1 409.3L546.3 416.8L574.4 417.6L602.6 405.4L630.8 395.6L659 388.1L687.1 372.3L715.3 362.3L743.5 348.8L771.7 354.9" stroke="#2ca02c"/>
<path d="M95.5 501L123.6 504L151.8 507L180 511L208.2 516L236.3 521L264.5 527L292.7 534L320.9 541L349 551L377.2 567L405.4 566.5L433.6 589.6L461.7 572L489.9 556L518.1 546L546.3 539L574.4 533L602.6 528L630.8 524L659 520L687.1 517L715.3 514L743.5 511L771.7 509" stroke="#8c564b"/>
<path d="M95.5 431.3L123.6 385.6L151.8 434.6L180 408.6L208.2 415.6L236.3 421.5L264.5 442.9L292.7 477L320.9 479.8L349 490.3L377.2 473.8L405.4 499.1L433.6 442L461.7 442L489.9 441.6L518.1 448.7L546.3 456.4L574.4 476.5L602.6 478.7L630.8 484L659 480.6L687.1 508.5L715.3 505.2L743.5 512.4L771.7 500.8" stroke="#d62728"/>
<path d="M95.5 437.2L123.6 390.1L151.8 381L180 392.9L208.2 433.5L236.3 458.5L264.5 489.4L292.7 466.4L320.9 485.6L349 475.8L377.2 484.9L405.4 471.6L433.6 427.5L461.7 438.9L489.9 438.2L518.1 444L546.3 436.2L574.4 450.4L602.6 461.8L630.8 487.9L659 501L687.1 503L715.3 455.3L743.5 464.5L771.7 449.3" stroke="#9467bd"/>
<path d="M95.5 493.8L123.6 478L151.8 490.5L180 501.8L208.2 501.1L236.3 502L264.5 460.4L292.7 488.7L320.9 483.3L349 465.7L377.2 477.6L405.4 464.5L433.6 439.4L461.7 439.5L489.9 430.7L518.1 426.9L546.3 446L574.4 428.5L602.6 394.6L630.8 384.6L659 372.4L687.1 394.7L715.3 398.2L743.5 418.4L771.7 422.2" stroke="#8c564b"/>
<path d="M95.5 421.2L123.6 399.3L151.8 421.4L180 430.6L208.2 469.4L236.3 468.6L264.5 462L292.7 471.7L320.9 490.6L349 445.4L377.2 457.4L405.4 475.8L433.6 489.6L461.7 472.9L489.9 457.3L518.1 451.4L546.3 457.2L574.4 464.7L602.6 452.4L630.8 462.9L659 446.8L687.1 426.7L715.3 428.2L743.5 415.4L771.7 393.6" stroke="#e377c2"/>
<path d="M95.5 491L123.6 494L151.8 498L180 502L208.2 507L236.3 513L264.5 519L292.7 526L320.9 534L349 546L377.2 565L405.4 564.5L433.6 567.3L461.7 575.5L489.9 570.4L518.1 565.4L546.3 564L574.4 559L602.6 571L630.8 568L659 566L687.1 579L715.3 576L743.5 564L771.7 561" stroke="#1f77b4"/>
<path d="M95.5 451.2L123.6 408.8L151.8 438.3L180 412L208.2 421.5L236.3 443.3L264.5 432.6L292.7 440.6L320.9 458.8L349 483.4L377.2 502.6L405.4 460.4L433.6 394.7L461.7 388.9L489.9 387.6L518.1 393.9L546.3 392.7L574.4 387.8L602.6 401.5L630.8 416.2L659 420.3L687.1 427.6L715.3 443.9L743.5 435.9L771.7 435.7" stroke="#7f7f7f"/>
<path d="M95.5 358.7L123.6 352.6L151.8 354.8L180 372.4L208.2 382.5L236.3 382.4L264.5 395.7L292.7 402.4L320.9 393.1L349 386.2L377.2 369.6L405.4 396.7L433.6 409.5L461.7 417.4L489.9 417.8L518.1 422.5L546.3 427.6L574.4 422.3L602.6 417.9L630.8 432.1L659 416.4L687.1 398.8L715.3 416.7L743.5 390.5L771.7 408.2" stroke="#bcbd22"/>
<path d="M95.5 386.6L123.6 370.4L151.8 377.1L180 399.2L208.2 406.9L236.3 428.4L264.5 419.4L292.7 421.6L320.9 419.5L349 426.1L377.2 504.2L405.4 491.8L433.6 525.3L461.7 512.7L489.9 501.2L518.1 488.7L546.3 508.1L574.4 507.9L602.6 514.4L630.8 514.9L659 516.8L687.1 530.7L715.3 521.1L743.5 514.8L771.7 492.1" stroke="#17becf"/>
<path d="M95.5 422.1L123.6 436.1L151.8 429.7L180 441.7L208.2 424.4L236.3 407.8L264.5 402.3L292.7 420.7L320.9 432.7L349 403.4L377.2 412.6L405.4 419.8L433.6 373.5L461.7 364.9L489.9 368L518.1 369.1L546.3 354.1L574.4 347.5L602.6 340.2L630.8 339.3L659 351.5L687.1 376.2L715.3 366.8L743.5 361.8L771.7 365.4" stroke="#1f77b4"/>
<path d="M95.5 481L123.6 484L151.8 488L180 493L208.2 499L236.3 505L264.5 512L292.7 519L320.9 527L349 536L377.2 545L405.4 549L433.6 567L461.7 578.6L489.9 584.5L518.1 586L546.3 593.3L574.4 590.5L602.6 580.3L630.8 574.4L659 582.5L687.1 593.3L715.3 590.5L743.5 585.4L771.7 586.5" stroke="#d62728"/>
<path d="M95.5 384.4L123.6 418.2L151.8 452.6L180 466.6L208.2 486.2L236.3 460.7L264.5 436.9L292.7 386L320.9 370.6L349 387.3L377.2 404.9L405.4 462.4L433.6 475.3L461.7 470L489.9 462.8L518.1 457.2L546.3 448.9L574.4 448.1L602.6 436.1L630.8 418.9L659 441.4L687.1 443.5L715.3 461.9L743.5 440.2L771.7 417.9" stroke="#ff7f0e"/>
<path d="M95.5 447.6L123.6 430.8L151.8 453.9L180 455.5L208.2 452.5L236.3 449.4L264.5 450.6L292.7 440.1L320.9 444.7L349 422L377.2 420.6L405.4 430L433.6 430.9L461.7 435.1L489.9 427.2L518.1 429.1L546.3 424.3L574.4 429.2L602.6 450L630.8 437.5L659 450.8L687.1 444.4L715.3 438.8L743.5 459.4L771.7 474" stroke="#2ca02c"/>
<path d="M95.5 365.9L123.6 379.3L151.8 402.3L180 437.2L208.2 417.8L236.3 423.1L264.5 413.7L292.7 426.9L320.9 420.3L349 430.2L377.2 428.9L405.4 427.3L433.6 423.2L461.7 427.7L489.9 437.5L518.1 432.7L546.3 433.3L574.4 434.5L602.6 444.5L630.8 438.2L659 401.9L687.1 412L715.3 404.7L743.5 395.2L771.7 440.7" stroke="#d62728"/>
<path d="M95.5 420.4L123.6 425.3L151.8 440.7L180 409.5L208.2 416.3L236.3 440.4L264.5 438.9L292.7 435.6L320.9 443.2L349 442.4L377.2 460L405.4 463.1L433.6 438.8L461.7 416.4L489.9 410.2L518.1 412.5L546.3 396.4L574.4 383.1L602.6 362.2L630.8 354L659 336.4L687.1 338.3L715.3 346.9L743.5 341.4L771.7 348.4" stroke="#9467bd"/>
<path d="M95.5 471L123.6 475L151.8 480L180 486L208.2 492L236.3 499L264.5 506L292.7 514L320.9 522L349 531L377.2 541L405.4 552L433.6 563L461.7 572.8L489.9 562.3L518.1 567.3L546.3 577.5L574.4 597.5L602.6 610.5L630.8 596.4L659 619.5L687.1 603.4L715.3 597.5L743.5 607.4L771.7 609.4" stroke="#d62728"/>
<path d="M95.5 388.7L123.6 412.3L151.8 462.3L180 482.1L208.2 512.9L236.3 498.2L264.5 493.4L292.7 505.8L320.9 508.7L349 481.2L377.2 471L405.4 443.1L433.6 379.7L461.7 390.8L489.9 393.9L518.1 386.7L546.3 374L574.4 369.4L602.6 381.1L630.8 383.6L659 399.7L687.1 419L715.3 421.6L743.5 442.4L771.7 452.9" stroke="#8c564b"/>
<path d="M95.5 505.5L123.6 480.1L151.8 478.6L180 471.4L208.2 504.5L236.3 506.3L264.5 517L292.7 497.8L320.9 515.1L349 486.8L377.2 482.4L405.4 473.7L433.6 463.8L461.7 459.4L489.9 463.7L518.1 450.7L546.3 444.6L574.4 445L602.6 441.4L630.8 436.7L659 425.2L687.1 413.8L715.3 405.7L743.5 384.9L771.7 381.8" stroke="#e377c2"/>
<path d="M95.5 397.2L123.6 376.6L151.8 383.4L180 435.8L208.2 401.7L236.3 404.2L264.5 428.8L292.7 437.3L320.9 450.8L349 409.9L377.2 403.1L405.4 432.7L433.6 413.3L461.7 419.3L489.9 401.5L518.1 413.3L546.3 435.5L574.4 437.5L602.6 437.6L630.8 447.3L659 474.4L687.1 475L715.3 448.3L743.5 467.2L771.7 450.2" stroke="#7f7f7f"/>
<path d="M95.5 521.4L123.6 519.8L151.8 468.6L180 459.6L208.2 456.4L236.3 435.7L264.5 416.2L292.7 433L320.9 417.1L349 423.7L377.2 448.3L405.4 424.5L433.6 431.8L461.7 440.1L489.9 434.2L518.1 448L546.3 465.4L574.4 475.4L602.6 476.1L630.8 477.7L659 459.1L687.1 467.4L715.3 459.4L743.5 450.6L771.7 463.2" stroke="#bcbd22"/>
<path d="M95.5 461L123.6 466L151.8 471L180 477L208.2 484L236.3 491L264.5 499L292.7 507L320.9 516L349 525L377.2 535L405.4 546L433.6 556L461.7 581.6L489.9 589.6L518.1 582.5L546.3 570.4L574.4 556L602.6 546L630.8 539L659 533L687.1 528L715.3 524L743.5 520L771.7 517" stroke="#17becf"/>
<path d="M95.5 544.2L123.6 516.9L151.8 513.6L180 523.4L208.2 492.4L236.3 481.6L264.5 503L292.7 490.1L320.9 510.7L349 485.6L377.2 486.1L405.4 496L433.6 452.7L461.7 448.8L489.9 455L518.1 438.1L546.3 441.8L574.4 447.3L602.6 446.1L630.8 456L659 460L687.1 464.3L715.3 444.6L743.5 420.3L771.7 420.5" stroke="#17becf"/>
<path d="M95.5 445L123.6 400.3L151.8 404.3L180 403.3L208.2 389.1L236.3 390.7L264.5 347.8L292.7 345.2L320.9 373.7L349 365.2L377.2 374.3L405.4 374.6L433.6 463L461.7 455.3L489.9 444.3L518.1 434.1L546.3 426.8L574.4 405L602.6 409.1L630.8 390.6L659 405.1L687.1 417.3L715.3 389.2L743.5 387.1L771.7 417.1" stroke="#1f77b4"/>
<path d="M95.5 483.7L123.6 464.9L151.8 467.4L180 484.5L208.2 466.5L236.3 472.9L264.5 496.4L292.7 501.5L320.9 473.9L349 501.1L377.2 492.5L405.4 466L433.6 445.3L461.7 457.3L489.9 461.2L518.1 458.7L546.3 448.2L574.4 456.9L602.6 469.2L630.8 457.7L659 445.3L687.1 439.3L715.3 449.8L743.5 444.6L771.7 436.5" stroke="#ff7f0e"/>
<path d="M95.5 405.1L123.6 393.3L151.8 427.2L180 427.6L208.2 432.1L236.3 453.2L264.5 447.8L292.7 446.6L320.9 453.1L349 438.7L377.2 458.3L405.4 458.5L433.6 442.7L461.7 441.3L489.9 430L518.1 440L546.3 458L574.4 457.7L602.6 451.6L630.8 423.3L659 418.4L687.1 432.6L715.3 422.5L743.5 434.5L771.7 452" stroke="#2ca02c"/>
<path d="M95.5 451L123.6 456L151.8 462L180 469L208.2 476L236.3 484L264.5 492L292.7 501L320.9 510L349 520L377.2 530L405.4 541L433.6 551L461.7 561L489.9 556.3L518.1 557.4L546.3 546L574.4 539L602.6 533L630.8 528L659 524L687.1 520L715.3 517L743.5 514L771.7 511" stroke="#7f7f7f"/>
<path d="M95.5 299.4L123.6 310.4L151.8 310L180 306.5L208.2 324.5L236.3 322.5L264.5 315.5L292.7 317.5L320.9 308.4L349 315.5L377.2 310.4L405.4 315.5L433.6 314.4L461.7 310.4L489.9 316.4L518.1 316.4L546.3 311.5L574.4 303.4L602.6 312.4L630.8 305.4L659 284.4L687.1 291.5L715.3 293.5L743.5 288.4L771.7 284.5" stroke="#d62728"/>
<path d="M95.5 478.7L123.6 417.3L151.8 428.9L180 438L208.2 414.8L236.3 397.1L264.5 387L292.7 424.3L320.9 410.4L349 431.8L377.2 441.1L405.4 440.2L433.6 441.4L461.7 438.3L489.9 403.5L518.1 396.7L546.3 387.8L574.4 393.2L602.6 407.2L630.8 420.7L659 434.5L687.1 446.9L715.3 456.9L743.5 456.9L771.7 467.3" stroke="#9467bd"/>
<path d="M95.5 464.3L123.6 491.5L151.8 504.5L180 503.4L208.2 493.7L236.3 464.2L264.5 440.2L292.7 448.1L320.9 427.4L349 458L377.2 415.1L405.4 394L433.6 397.4L461.7 414.4L489.9 415.6L518.1 431.3L546.3 440.4L574.4 433.8L602.6 431.3L630.8 442.7L659 430L687.1 445.2L715.3 443.1L743.5 447.6L771.7 455.6" stroke="#8c564b"/>
<path d="M95.5 402.3L123.6 401.3L151.8 428.1L180 384.9L208.2 400L236.3 376L264.5 393.9L292.7 387L320.9 407.7L349 433.4L377.2 426.7L405.4 422.7L433.6 454.8L461.7 443.8L489.9 452.1L518.1 446L546.3 443.2L574.4 439L602.6 460L630.8 440.5L659 435.3L687.1 441L715.3 453.7L743.5 475L771.7 494.8" stroke="#e377c2"/>
<path d="M95.5 391.9L123.6 384.4L151.8 395.3L180 428.4L208.2 442.8L236.3 405.1L264.5 408.6L292.7 427.8L320.9 397.2L349 394L377.2 393.3L405.4 407L433.6 452L461.7 460.8L489.9 470.3L518.1 470L546.3 471.2L574.4 460.2L602.6 458.3L630.8 455.2L659 467.3L687.1 506.6L715.3 509.1L743.5 517.4L771.7 514.2" stroke="#7f7f7f"/>
<path d="M95.5 433.8L123.6 444.8L151.8 470.9L180 495.9L208.2 489.8L236.3 479.4L264.5 485.6L292.7 470.6L320.9 471.4L349 487.9L377.2 480L405.4 445.9L433.6 457.7L461.7 447.5L489.9 431.4L518.1 416.5L546.3 425.2L574.4 398.4L602.6 393.7L630.8 403.9L659 408.3L687.1 400.7L715.3 400.4L743.5 399.7L771.7 372.7" stroke="#bcbd22"/>
<path d="M95.5 438.1L123.6 456.7L151.8 476.4L180 460.5L208.2 441.3L236.3 414.5L264.5 436.2L292.7 414.3L320.9 405L349 381.9L377.2 404L405.4 398.5L433.6 406.6L461.7 429.6L489.9 435.5L518.1 425.5L546.3 428.4L574.4 438.2L602.6 428L630.8 413.4L659 395.2L687.1 418.2L715.3 419.7L743.5 394.1L771.7 409.1" stroke="#17becf"/>
<path d="M95.5 379.7L123.6 406.1L151.8 388L180 367.2L208.2 390L236.3 448.1L264.5 474.3L292.7 484.9L320.9 493.1L349 464.8L377.2 463.6L405.4 474.7L433.6 461.5L461.7 468L489.9 471.4L518.1 475L546.3 446.8L574.4 439.7L602.6 448.4L630.8 462L659 466.4L687.1 498.1L715.3 499.8L743.5 508.1L771.7 488.3" stroke="#1f77b4"/>
<path d="M95.5 390.9L123.6 408L151.8 424.8L180 467.5L208.2 481.6L236.3 478.2L264.5 478.7L292.7 450.2L320.9 462.2L349 436.5L377.2 427.4L405.4 435.4L433.6 485.5L461.7 492L489.9 486L518.1 471.6L546.3 475L574.4 461.1L602.6 462.7L630.8 469.8L659 478.1L687.1 465.3L715.3 458.5L743.5 458.5L771.7 462.3" stroke="#ff7f0e"/>
<path d="M95.5 489.9L123.6 466.6L151.8 457.3L180 478.6L208.2 434.9L236.3 427.6L264.5 424.9L292.7 397.6L320.9 378L349 388.3L377.2 383.5L405.4 401.7L433.6 424.9L461.7 446.3L489.9 433.5L518.1 452.8L546.3 443.9L574.4 456L602.6 465.4L630.8 472.5L659 463.6L687.1 459.5L715.3 435.2L743.5 430L771.7 410.9" stroke="#2ca02c"/>
<path d="M95.5 428L123.6 447.7L151.8 423.1L180 423.8L208.2 439.2L236.3 442.1L264.5 435.5L292.7 433.8L320.9 422.7L349 428.5L377.2 438L405.4 433.6L433.6 476.6L461.7 480.7L489.9 466L518.1 481.3L546.3 497.5L574.4 494.8L602.6 510.2L630.8 478.9L659 510L687.1 496.5L715.3 463.6L743.5 451.4L771.7 451.1" stroke="#d62728"/>
<path d="M95.5 416.9L123.6 414.9L151.8 436.2L180 420.8L208.2 447.9L236.3 450L264.5 424.1L292.7 448.6L320.9 454.7L349 450.8L377.2 464.6L405.4 447L433.6 434.4L461.7 449.4L489.9 447.8L518.1 455.7L546.3 462.8L574.4 462.9L602.6 467.3L630.8 459.4L659 464.5L687.1 451.3L715.3 452.9L743.5 443.9L771.7 446.7" stroke="#9467bd"/>
<path d="M95.5 492.5L123.6 492.8L151.8 500.9L180 497.3L208.2 468.1L236.3 417.7L264.5 396.6L292.7 393.9L320.9 396.2L349 394.9L377.2 396.3L405.4 371.7L433.6 349.9L461.7 361.4L489.9 379L518.1 365.4L546.3 361L574.4 362.3L602.6 351L630.8 356.1L659 357.3L687.1 368L715.3 397.1L743.5 378L771.7 400.6" stroke="#8c564b"/>
<path d="M95.5 401.3L123.6 428.5L151.8 445.6L180 426.1L208.2 427.2L236.3 431.3L264.5 461.2L292.7 456.1L320.9 491.8L349 473.6L377.2 456.6L405.4 456.6L433.6 389.1L461.7 387L489.9 390.8L518.1 388.8L546.3 389.8L574.4 378.1L602.6 368.7L630.8 379.3L659 365.4L687.1 363.3L715.3 351.4L743.5 338.5L771.7 360.5" stroke="#e377c2"/>
<path d="M95.5 481.2L123.6 494.1L151.8 452L180 451.6L208.2 474L236.3 460L264.5 463.7L292.7 491.5L320.9 536.5L349 552.4L377.2 535L405.4 517.2L433.6 513.8L461.7 501.1L489.9 494.9L518.1 505.8L546.3 523.6L574.4 520.3L602.6 532.5L630.8 530.3L659 533.8L687.1 543.7L715.3 540.2L743.5 545.4L771.7 522.5" stroke="#7f7f7f"/>
<path d="M95.5 367.5L123.6 394.3L151.8 442.6L180 436.5L208.2 420.8L236.3 413.6L264.5 434.8L292.7 415.2L320.9 426.6L349 454.7L377.2 451.6L405.4 454.1L433.6 436.8L461.7 428.7L489.9 427.9L518.1 417.2L546.3 414.2L574.4 404.1L602.6 425.5L630.8 446.5L659 440.6L687.1 456.7L715.3 460.2L743.5 457.7L771.7 464.2" stroke="#bcbd22"/>
<path d="M95.5 404.2L123.6 431.5L151.8 393.3L180 461.3L208.2 436.3L236.3 391.7L264.5 390L292.7 393L320.9 379.3L349 363.3L377.2 382.3L405.4 380.8L433.6 386.2L461.7 383.9L489.9 391.8L518.1 384.4L546.3 388.8L574.4 384.3L602.6 392.8L630.8 404.8L659 407.2L687.1 415.5L715.3 434.5L743.5 401.9L771.7 401.6" stroke="#17becf"/>
<path d="M95.5 412.5L123.6 457.5L151.8 422.2L180 450.8L208.2 434.2L236.3 438L264.5 423.3L292.7 425.2L320.9 431.2L349 426.9L377.2 390.2L405.4 439.7L433.6 435.2L461.7 430.5L489.9 438.9L518.1 453.5L546.3 429.2L574.4 433L602.6 410L630.8 398.8L659 397.5L687.1 391.3L715.3 381.7L743.5 360.2L771.7 358.7" stroke="#1f77b4"/>
<path d="M95.5 462.3L123.6 456L151.8 449.4L180 417.7L208.2 398.3L236.3 422.3L264.5 437.5L292.7 432.1L320.9 440.2L349 448.5L377.2 454L405.4 459.1L433.6 443.3L461.7 436L489.9 434.8L518.1 414.1L546.3 411.6L574.4 375.4L602.6 365.6L630.8 360L659 360.7L687.1 411.1L715.3 418.7L743.5 410.3L771.7 368.5" stroke="#ff7f0e"/>
<path d="M95.5 430.5L123.6 464L151.8 415.4L180 424.6L208.2 408.5L236.3 461.4L264.5 458.1L292.7 459L320.9 447.7L349 443.2L377.2 452.4L405.4 444.2L433.6 420.5L461.7 408.4L489.9 405.2L518.1 394.8L546.3 394.6L574.4 412.7L602.6 429.7L630.8 407.8L659 396.4L687.1 399.8L715.3 412.8L743.5 408.3L771.7 403.5" stroke="#2ca02c"/>
<path d="M95.5 538.5L123.6 527L151.8 523.8L180 494.5L208.2 478.3L236.3 482.8L264.5 501.2L292.7 499.6L320.9 497.3L349 470L377.2 467.4L405.4 463.8L433.6 464.6L461.7 475.8L489.9 464.5L518.1 460.2L546.3 431.7L574.4 442L602.6 439.9L630.8 429.5L659 438.3L687.1 455.8L715.3 464.5L743.5 462.8L771.7 457.5" stroke="#d62728"/>
<path d="M95.5 495.2L123.6 489.1L151.8 460.1L180 442.4L208.2 428.6L236.3 430.6L264.5 431.1L292.7 423.4L320.9 402.3L349 407.2L377.2 397.3L405.4 406L433.6 448.6L461.7 458L489.9 449.2L518.1 441.3L546.3 426L574.4 426.9L602.6 416.2L630.8 392.5L659 380L687.1 390.2L715.3 393.7L743.5 391.7L771.7 415.3" stroke="#9467bd"/>
<path d="M95.5 394L123.6 392.2L151.8 375.7L180 388.4L208.2 374.5L236.3 377.4L264.5 381.5L292.7 389.1L320.9 398.2L349 396.7L377.2 394.3L405.4 368.7L433.6 364.1L461.7 352.6L489.9 366L518.1 379.6L546.3 375.3L574.4 390L602.6 382.2L630.8 378.2L659 353.5L687.1 341.6L715.3 338.4L743.5 331.6L771.7 343.4" stroke="#8c564b"/>
<path d="M95.5 552.2L123.6 512L151.8 489.2L180 508.7L208.2 487.4L236.3 429.1L264.5 426.5L292.7 436.4L320.9 448.5L349 467.5L377.2 438.8L405.4 444.8L433.6 432.7L461.7 405.3L489.9 388.7L518.1 400.5L546.3 386.8L574.4 380.7L602.6 378.9L630.8 370.8L659 366.9L687.1 334.7L715.3 341.5L743.5 335.2L771.7 320.2" stroke="#e377c2"/>
<path d="M95.5 374.7L123.6 368.6L151.8 362L180 363.3L208.2 350.6L236.3 348.9L264.5 338.2L292.7 363.2L320.9 372.2L349 395.8L377.2 391.2L405.4 391.2L433.6 453.4L461.7 454.6L489.9 446.4L518.1 443.3L546.3 452.6L574.4 442.7L602.6 449.2L630.8 464.7L659 479.4L687.1 483.5L715.3 462.8L743.5 446.8L771.7 439.9" stroke="#7f7f7f"/>
<path d="M95.5 524L123.6 532L151.8 536L180 544L208.2 551.3L236.3 543.5L264.5 550.3L292.7 518L320.9 523.4L349 514.4L377.2 523.6L405.4 521L433.6 533.8L461.7 509.8L489.9 499.5L518.1 499L546.3 494.4L574.4 500.8L602.6 482.6L630.8 480.2L659 484.3L687.1 477.9L715.3 476.2L743.5 484.9L771.7 504.1" stroke="#bcbd22"/>
<path d="M95.5 378.5L123.6 378L151.8 384.6L180 390.7L208.2 400.9L236.3 383.5L264.5 391L292.7 405.5L320.9 386.6L349 371.7L377.2 366.1L405.4 394.9L433.6 418.7L461.7 404.2L489.9 413.3L518.1 398.6L546.3 409.8L574.4 402.3L602.6 414.4L630.8 389.6L659 392.9L687.1 381.1L715.3 386L743.5 422.3L771.7 434.9" stroke="#17becf"/>
<path d="M95.5 479.9L123.6 483.4L151.8 494.6L180 477.5L208.2 442.1L236.3 438.6L264.5 453.5L292.7 450.7L320.9 463.9L349 427.7L377.2 425.2L405.4 420.8L433.6 430.1L461.7 451.3L489.9 458.8L518.1 466.5L546.3 464.5L574.4 463.8L602.6 470.7L630.8 481.4L659 453.3L687.1 473.6L715.3 480.4L743.5 479.9L771.7 489.5" stroke="#1f77b4"/>
<path d="M95.5 376L123.6 391.2L151.8 385.8L180 358.8L208.2 394.8L236.3 400.6L264.5 398.5L292.7 404.5L320.9 409.5L349 417.8L377.2 401.3L405.4 411.1L433.6 417.8L461.7 413.4L489.9 419.3L518.1 419.5L546.3 407.1L574.4 409.4L602.6 404.4L630.8 406.8L659 423.3L687.1 436.8L715.3 451.4L743.5 449.1L771.7 453.8" stroke="#ff7f0e"/>
<path d="M95.5 407L123.6 446.9L151.8 435.4L180 425.4L208.2 463L236.3 426.9L264.5 421.8L292.7 428.7L320.9 406.9L349 408.1L377.2 418.2L405.4 381.9L433.6 419.6L461.7 421.2L489.9 411L518.1 424.7L546.3 422.7L574.4 423.9L602.6 388.1L630.8 399.8L659 403L687.1 392.4L715.3 388.1L743.5 419.4L771.7 404.4" stroke="#2ca02c"/>
<path d="M95.5 516.7L123.6 498.1L151.8 487.9L180 464.8L208.2 437.7L236.3 424.6L264.5 415.3L292.7 443.6L320.9 441.7L349 435L377.2 436.4L405.4 441.9L433.6 458.5L461.7 445L489.9 424.4L518.1 427.6L546.3 418.5L574.4 426.2L602.6 410.9L630.8 400.8L659 400.8L687.1 404.6L715.3 409.8L743.5 426.2L771.7 412.7" stroke="#d62728"/>
<path d="M95.5 356.7L123.6 375.1L151.8 372.7L180 378.3L208.2 376L236.3 373.1L264.5 357.1L292.7 381.5L320.9 367.2L349 380.8L377.2 379.8L405.4 377.2L433.6 355.6L461.7 379.6L489.9 381.7L518.1 399.5L546.3 379.1L574.4 407.7L602.6 423L630.8 444.2L659 422.3L687.1 442.7L715.3 441.7L743.5 448.3L771.7 470.3" stroke="#9467bd"/>
<path d="M95.5 336.3L123.6 362.8L151.8 357.4L180 369L208.2 369.5L236.3 374.6L264.5 376.6L292.7 384.9L320.9 376.6L349 356.7L377.2 352.1L405.4 347.5L433.6 376.1L461.7 381.8L489.9 376.2L518.1 387.8L546.3 398.4L574.4 396.3L602.6 403.5L630.8 375.9L659 417.4L687.1 412.9L715.3 396L743.5 423.3L771.7 428.2" stroke="#8c564b"/>
<path d="M95.5 426.3L123.6 419.8L151.8 382.2L180 407.8L208.2 447.2L236.3 419.2L264.5 392.9L292.7 400.3L320.9 447L349 417L377.2 419.8L405.4 399.5L433.6 401.6L461.7 402.1L489.9 418.6L518.1 403.3L546.3 383.6L574.4 413.5L602.6 423.9L630.8 397.7L659 404.1L687.1 429.3L715.3 432.9L743.5 432.9L771.7 429.9" stroke="#e377c2"/>
<path d="M95.5 441.5L123.6 453.7L151.8 458L180 470.1L208.2 455.6L236.3 469.7L264.5 468.6L292.7 465.3L320.9 441L349 429.4L377.2 429.7L405.4 428.2L433.6 408.5L461.7 394.6L489.9 400.6L518.1 378.2L546.3 362.9L574.4 366L602.6 375.4L630.8 363.5L659 347.2L687.1 354.1L715.3 374.7L743.5 416.4L771.7 397.7" stroke="#7f7f7f"/>
<path d="M95.5 433L123.6 415.7L151.8 396.3L180 432.8L208.2 405.2L236.3 418.4L264.5 409.5L292.7 407.5L320.9 423.5L349 431L377.2 466.4L405.4 483.3L433.6 519L461.7 502.9L489.9 505L518.1 487.6L546.3 493L574.4 504.1L602.6 502.8L630.8 504.6L659 497.9L687.1 493.5L715.3 503.3L743.5 497.5L771.7 493.5" stroke="#bcbd22"/>
<path d="M95.5 486.1L123.6 482.3L151.8 458.7L180 420L208.2 427.9L236.3 441.5L264.5 481L292.7 475.9L320.9 482.1L349 516.9L377.2 513.6L405.4 488L433.6 498.4L461.7 493.3L489.9 496.3L518.1 485.4L546.3 510.1L574.4 510L602.6 497.9L630.8 494.9L659 486.8L687.1 486.3L715.3 501.6L743.5 495.9L771.7 484.6" stroke="#17becf"/>
<path d="M95.5 362.5L123.6 387.9L151.8 386.9L180 373.9L208.2 371.3L236.3 394.5L264.5 406L292.7 446.1L320.9 421.9L349 411.7L377.2 399.2L405.4 417.9L433.6 450L461.7 450L489.9 447.1L518.1 456.5L546.3 451.9L574.4 446.5L602.6 442.2L630.8 458.5L659 489.4L687.1 495L715.3 486L743.5 482.4L771.7 487" stroke="#1f77b4"/>
<path d="M95.5 458.5L123.6 470L151.8 451.3L180 457.2L208.2 449.4L236.3 462.9L264.5 472L292.7 461.4L320.9 484.5L349 504.3L377.2 509.5L405.4 468.4L433.6 457L461.7 445.6L489.9 442.9L518.1 444.6L546.3 463.7L574.4 473.1L602.6 455.7L630.8 448.8L659 443.7L687.1 431.8L715.3 433.8L743.5 435.2L771.7 429" stroke="#ff7f0e"/>
<path d="M95.5 425.5L123.6 409.7L151.8 399.2L180 395L208.2 393.8L236.3 415.3L264.5 417.8L292.7 443.1L320.9 418.7L349 458.8L377.2 449.9L405.4 417L433.6 426.6L461.7 440.7L489.9 436.2L518.1 426.2L546.3 423.5L574.4 421.5L602.6 418.8L630.8 422.4L659 375L687.1 374.9L715.3 383.9L743.5 392.9L771.7 383" stroke="#2ca02c"/>
<path d="M95.5 471.5L123.6 460.7L151.8 437.7L180 438.7L208.2 463.9L236.3 451.9L264.5 455.8L292.7 455.6L320.9 489.3L349 491.5L377.2 505.9L405.4 494.5L433.6 516.3L461.7 505L489.9 503L518.1 501L546.3 527.3L574.4 523.8L602.6 522.1L630.8 534.9L659 539.4L687.1 559.1L715.3 555.5L743.5 537.4L771.7 530.3" stroke="#d62728"/>
<path d="M95.5 465.3L123.6 458.3L151.8 473.1L180 426.9L208.2 404.4L236.3 393.6L264.5 412.9L292.7 441.1L320.9 415.4L349 420.3L377.2 424.4L405.4 423.6L433.6 454.1L461.7 448.1L489.9 443.6L518.1 438.7L546.3 447.5L574.4 443.5L602.6 453.3L630.8 439.7L659 426.2L687.1 414.7L715.3 402.6L743.5 389.3L771.7 438.2" stroke="#9467bd"/>
<path d="M95.5 502.3L123.6 474.7L151.8 477.5L180 476.3L208.2 472.8L236.3 491.9L264.5 499.5L292.7 479.1L320.9 453.9L349 459.6L377.2 468.3L405.4 445.3L433.6 462.2L461.7 444.4L489.9 440.9L518.1 452.1L546.3 438.3L574.4 424.6L602.6 435.3L630.8 417.1L659 424.2L687.1 401.7L715.3 414.8L743.5 436.6L771.7 425.6" stroke="#8c564b"/>
<path d="M95.5 352.2L123.6 345.5L151.8 326.1L180 323.4L208.2 338.4L236.3 336.6L264.5 330.5L292.7 332.3L320.9 351L349 373.2L377.2 416.6L405.4 412.1L433.6 415.1L461.7 385L489.9 386.4L518.1 390.9L546.3 380.2L574.4 395.2L602.6 408.2L630.8 433L659 414.4L687.1 403.7L715.3 430.1L743.5 429.1L771.7 406.3" stroke="#e377c2"/>
<path d="M95.5 432.2L123.6 423.8L151.8 411.8L180 440.2L208.2 451.7L236.3 445.7L264.5 421L292.7 444.1L320.9 461.3L349 435.8L377.2 443.5L405.4 434.5L433.6 424L461.7 409.4L489.9 399.6L518.1 391.9L546.3 376.6L574.4 391L602.6 398.5L630.8 388.6L659 371.1L687.1 351.9L715.3 319.6L743.5 322.2L771.7 303.5" stroke="#7f7f7f"/>
<path d="M95.5 369L123.6 358.2L151.8 364L180 375.5L208.2 392L236.3 385.7L264.5 400.4L292.7 395.8L320.9 424.2L349 405.3L377.2 422.1L405.4 408.1L433.6 455.5L461.7 458.7L489.9 445.7L518.1 455L546.3 451.1L574.4 459.4L602.6 494.9L630.8 489.3L659 475.7L687.1 501.4L715.3 483.1L743.5 483.6L771.7 499.2" stroke="#bcbd22"/>
<path d="M95.5 417.8L123.6 427.7L151.8 443.8L180 387.3L208.2 425.8L236.3 412.8L264.5 394.8L292.7 439L320.9 466.6L349 456.3L377.2 447.5L405.4 449.4L433.6 410.4L461.7 418.3L489.9 429.3L518.1 459.5L546.3 453.4L574.4 469.5L602.6 460.9L630.8 460.2L659 476.9L687.1 452.2L715.3 439.5L743.5 428.1L771.7 441.6" stroke="#17becf"/>
<path d="M95.5 470.4L123.6 471.2L151.8 481.9L180 491.8L208.2 506.4L236.3 484L264.5 479.8L292.7 464.1L320.9 472.7L349 447.7L377.2 435.7L405.4 489.2L433.6 492.4L461.7 488.3L489.9 479.5L518.1 478.5L546.3 487.5L574.4 496.2L602.6 483.9L630.8 493.5L659 499.4L687.1 514.6L715.3 498.1L743.5 504.2L771.7 519.4" stroke="#1f77b4"/>
<path d="M95.5 445.9L123.6 432.3L151.8 446.9L180 443.2L208.2 426.5L236.3 402.4L264.5 385.9L292.7 398.5L320.9 401.3L349 425.3L377.2 398.3L405.4 392.1L433.6 360.2L461.7 359.4L489.9 389.7L518.1 370.8L546.3 368.1L574.4 371L602.6 374.2L630.8 365.1L659 349.4L687.1 378.7L715.3 363.9L743.5 367.8L771.7 378" stroke="#ff7f0e"/>
<path d="M95.5 459.5L123.6 414L151.8 394.3L180 406.9L208.2 450.9L236.3 444.5L264.5 429.5L292.7 434.7L320.9 457.2L349 462.2L377.2 489.9L405.4 472.7L433.6 444.6L461.7 437.7L489.9 440.2L518.1 436.8L546.3 434.8L574.4 440.5L602.6 439.1L630.8 412.5L659 412.4L687.1 396.7L715.3 410.8L743.5 405.1L771.7 434" stroke="#2ca02c"/>
<path d="M95.5 418.7L123.6 430L151.8 397.3L180 365.3L208.2 367.6L236.3 356.3L264.5 351.4L292.7 358.6L320.9 368.9L349 368.7L377.2 384.7L405.4 365.2L433.6 396.5L461.7 422.1L489.9 432.8L518.1 449.3L546.3 468.6L574.4 453.6L602.6 457.4L630.8 452.8L659 442.9L687.1 422.5L715.3 432L743.5 404.1L771.7 392.5" stroke="#d62728"/>
<path d="M95.5 449.4L123.6 449.9L151.8 432.9L180 472.7L208.2 479.4L236.3 476.1L264.5 459.6L292.7 459.6L320.9 465.7L349 441.7L377.2 417.4L405.4 402.8L433.6 370.6L461.7 374.9L489.9 382.9L518.1 375.5L546.3 377.8L574.4 385.5L602.6 372.9L630.8 372.2L659 381.1L687.1 377.5L715.3 355.5L743.5 353L771.7 340.6" stroke="#9467bd"/>
<path d="M95.5 443.3L123.6 454.4L151.8 461.5L180 480.9L208.2 475.1L236.3 436.3L264.5 454.3L292.7 419.8L320.9 436.5L349 440.2L377.2 423.6L405.4 416L433.6 403.6L461.7 426.8L489.9 425.1L518.1 430.5L546.3 404.3L574.4 406.8L602.6 402.5L630.8 419.8L659 432L687.1 448.7L715.3 436.6L743.5 438.8L771.7 427.3" stroke="#8c564b"/>
<path d="M95.5 510.7L123.6 504.3L151.8 506.5L180 488.1L208.2 502.8L236.3 511.6L264.5 511.4L292.7 511L320.9 517.6L349 506.1L377.2 515.8L405.4 490.5L433.6 496.9L461.7 474.8L489.9 462L518.1 465.6L546.3 479.9L574.4 483.4L602.6 474.8L630.8 461.1L659 481.8L687.1 470.4L715.3 487.4L743.5 494.4L771.7 511.9" stroke="#e377c2"/>
<path d="M95.5 474.7L123.6 419L151.8 418L180 414.5L208.2 431.4L236.3 408.6L264.5 452.8L292.7 449.1L320.9 404.1L349 415.2L377.2 415.9L405.4 403.9L433.6 429.2L461.7 432.4L489.9 422.9L518.1 418L546.3 412.5L574.4 420.7L602.6 415.3L630.8 414.3L659 389.3L687.1 382.3L715.3 384.9L743.5 433.8L771.7 419.7" stroke="#7f7f7f"/>
<path d="M95.5 325.3L123.6 335L151.8 359.8L180 405.1L208.2 430.7L236.3 410.3L264.5 431.8L292.7 445.1L320.9 434.3L349 414.4L377.2 414.2L405.4 418.9L433.6 436.1L461.7 412.4L489.9 406.9L518.1 411.7L546.3 421L574.4 432.3L602.6 427.2L630.8 436L659 428.1L687.1 424.2L715.3 420.6L743.5 403L771.7 388.9" stroke="#bcbd22"/>
<path d="M95.5 468.3L123.6 481.2L151.8 485.4L180 429.8L208.2 454.8L236.3 459.2L264.5 438.2L292.7 442.6L320.9 455.5L349 474.7L377.2 453.2L405.4 442.5L433.6 391L461.7 391.8L489.9 394.8L518.1 404.2L546.3 401.4L574.4 411.1L602.6 406.3L630.8 391.5L659 377.5L687.1 395.7L715.3 369.6L743.5 380.4L771.7 396.6" stroke="#17becf"/>
<path d="M95.5 491.2L123.6 484.5L151.8 499.2L180 520.3L208.2 496.5L236.3 487.8L264.5 475.4L292.7 474.8L320.9 470.1L349 498.1L377.2 493.8L405.4 502.6L433.6 500.1L461.7 490.7L489.9 488.3L518.1 495.6L546.3 520.3L574.4 514.6L602.6 519.3L630.8 512.6L659 506.1L687.1 484.9L715.3 469L743.5 471.2L771.7 482.2" stroke="#1f77b4"/>
<path d="M95.5 398.3L123.6 434.6L151.8 443.2L180 439.5L208.2 430L236.3 433.6L264.5 430.3L292.7 418.9L320.9 414.6L349 413.5L377.2 411L405.4 421.7L433.6 447.3L461.7 443.2L489.9 436.9L518.1 437.4L546.3 442.5L574.4 420L602.6 428.9L630.8 428.6L659 429.1L687.1 446.1L715.3 446.1L743.5 417.4L771.7 390.1" stroke="#ff7f0e"/>
<path d="M95.5 343.8L123.6 340.8L151.8 340.2L180 338.2L208.2 360.7L236.3 364L264.5 367.5L292.7 365.2L320.9 347.7L349 359.1L377.2 348.8L405.4 387.3L433.6 352.9L461.7 343.2L489.9 339.7L518.1 339.4L546.3 348.2L574.4 344L602.6 353.6L630.8 351.7L659 339.5L687.1 325.3L715.3 325.9L743.5 356.8L771.7 356.8" stroke="#2ca02c"/>
<path d="M95.5 512.6L123.6 509.9L151.8 516.5L180 536.5L208.2 530.7L236.3 504L264.5 524.4L292.7 496.1L320.9 460.5L349 446.2L377.2 428.2L405.4 436.3L433.6 459.2L461.7 456.6L489.9 454.3L518.1 442.6L546.3 413.4L574.4 405.9L602.6 395.5L630.8 377.1L659 398.6L687.1 423.3L715.3 431L743.5 438.1L771.7 423.9" stroke="#d62728"/>
<path d="M95.5 439L123.6 448.4L151.8 398.2L180 379.7L208.2 381.3L236.3 381.2L264.5 377.9L292.7 355.9L320.9 385.5L349 384.1L377.2 377.2L405.4 370.2L433.6 342.2L461.7 333.4L489.9 349.6L518.1 352.7L546.3 356.6L574.4 350.5L602.6 358.3L630.8 346.3L659 324.8L687.1 318.8L715.3 334.9L743.5 358.5L771.7 337.5" stroke="#9467bd"/>
<path d="M95.5 466.3L123.6 463.2L151.8 426.4L180 422.3L208.2 403.5L236.3 378.7L264.5 379.1L292.7 349.4L320.9 380.6L349 377.2L377.2 381.1L405.4 386.2L433.6 384.1L461.7 382.9L489.9 374.7L518.1 395.8L546.3 393.6L574.4 400.4L602.6 387.2L630.8 387.6L659 382.3L687.1 393.6L715.3 382.8L743.5 364.9L771.7 369.9" stroke="#8c564b"/>
</g>
<path d="M88.4 396.2H102.5V471.5H88.4ZM116.6 402.4H130.7V468.4H116.6ZM144.8 401.3H158.9V464.5H144.8ZM172.9 402.4H187V468.4H172.9ZM201.1 403.5H215.2V466.5H201.1ZM229.3 402.4H243.4V461.4H229.3ZM257.5 400.4H271.6V464.5H257.5ZM285.6 401.3H299.7V461.4H285.6ZM313.8 401.3H327.9V468.4H313.8ZM342 399.5H356.1V468.4H342ZM370.2 401.3H384.3V469.3H370.2ZM398.3 399.5H412.4V464.5H398.3ZM426.5 398.4H440.6V465.4H426.5ZM454.7 396.5H468.8V464.5H454.7ZM482.9 403.5H497V464.5H482.9ZM511 402.4H525.1V463.4H511ZM539.2 398.4H553.3V465.4H539.2ZM567.4 399.5H581.5V466.5H567.4ZM595.6 396.5H609.7V467.3H595.6ZM623.7 394.5H637.8V466.5H623.7ZM651.9 390.5H666V467.3H651.9ZM680.1 393.6H694.2V468.4H680.1ZM708.3 391.4H722.4V465.4H708.3ZM736.4 390.5H750.5V465.4H736.4ZM764.6 392.5H778.7V467.3H764.6Z" fill="#1f77b4" stroke="#000" stroke-width="1.25"/>
<path d="M95.5 396.2V295.4M95.5 471.5V571.5M91.9 295.4h7M91.9 571.5h7M123.5 402.4V306.4M123.5 468.4V556.4M120.1 306.4h7M120.1 556.4h7M151.5 401.3V306M151.5 464.5V553.5M148.3 306h7M148.3 553.5h7M180.5 402.4V302.5M180.5 468.4V562.3M176.5 302.5h7M176.5 562.3h7M208.5 403.5V320.5M208.5 466.5V555.3M204.6 320.5h7M204.6 555.3h7M236.5 402.4V318.5M236.5 461.4V547.5M232.8 318.5h7M232.8 547.5h7M264.5 400.4V311.5M264.5 464.5V554.3M261 311.5h7M261 554.3h7M292.5 401.3V313.5M292.5 461.4V546.5M289.2 313.5h7M289.2 546.5h7M320.5 401.3V304.4M320.5 468.4V562.3M317.3 304.4h7M317.3 562.3h7M349.5 399.5V311.5M349.5 468.4V556.4M345.5 311.5h7M345.5 556.4h7M377.5 401.3V306.4M377.5 469.3V567.4M373.7 306.4h7M373.7 567.4h7M405.5 399.5V311.5M405.5 464.5V549.4M401.9 311.5h7M401.9 549.4h7M433.5 398.4V310.4M433.5 465.4V567.4M430 310.4h7M430 567.4h7M461.5 396.5V306.4M461.5 464.5V542.5M458.2 306.4h7M458.2 542.5h7M490.5 403.5V312.4M490.5 464.5V546.5M486.4 312.4h7M486.4 546.5h7M518.5 402.4V312.4M518.5 463.4V532.5M514.6 312.4h7M514.6 532.5h7M546.5 398.4V307.5M546.5 465.4V564.5M542.7 307.5h7M542.7 564.5h7M574.5 399.5V299.4M574.5 466.5V558.5M570.9 299.4h7M570.9 558.5h7M602.5 396.5V308.4M602.5 467.3V571.5M599.1 308.4h7M599.1 571.5h7M631.5 394.5V301.4M631.5 466.5V568.5M627.3 301.4h7M627.3 568.5h7M659.5 390.5V280.4M659.5 467.3V566.5M655.4 280.4h7M655.4 566.5h7M687.5 393.6V287.5M687.5 468.4V580.3M683.6 287.5h7M683.6 580.3h7M715.5 391.4V289.5M715.5 465.4V576.6M711.8 289.5h7M711.8 576.6h7M743.5 390.5V284.4M743.5 465.4V564.5M740 284.4h7M740 564.5h7M771.5 392.5V280.5M771.5 467.3V561.5M768.1 280.5h7M768.1 561.5h7" fill="none" stroke="#000" stroke-width="1.4" stroke-linecap="square"/>
<g fill="none" stroke="#000" stroke-width="1.5">
<circle cx="95.5" cy="142.5" r="4.0"/>
<circle cx="95.5" cy="171.4" r="4.0"/>
<circle cx="95.5" cy="230.5" r="4.0"/>
<circle cx="95.5" cy="259.5" r="4.0"/>
<circle cx="95.5" cy="278.4" r="4.0"/>
<circle cx="123.6" cy="143.6" r="4.0"/>
<circle cx="123.6" cy="211" r="4.0"/>
<circle cx="123.6" cy="211.8" r="4.0"/>
<circle cx="123.6" cy="234.4" r="4.0"/>
<circle cx="123.6" cy="276.2" r="4.0"/>
<circle cx="123.6" cy="282.4" r="4.0"/>
<circle cx="123.6" cy="286" r="4.0"/>
<circle cx="123.6" cy="297.6" r="4.0"/>
<circle cx="123.6" cy="582.5" r="4.0"/>
<circle cx="123.6" cy="601.5" r="4.0"/>
<circle cx="151.8" cy="127.5" r="4.0"/>
<circle cx="151.8" cy="188.4" r="4.0"/>
<circle cx="151.8" cy="189" r="4.0"/>
<circle cx="151.8" cy="245.4" r="4.0"/>
<circle cx="151.8" cy="280.4" r="4.0"/>
<circle cx="151.8" cy="292.5" r="4.0"/>
<circle cx="151.8" cy="303.2" r="4.0"/>
<circle cx="151.8" cy="305" r="4.0"/>
<circle cx="151.8" cy="596.4" r="4.0"/>
<circle cx="180" cy="124.5" r="4.0"/>
<circle cx="180" cy="177.2" r="4.0"/>
<circle cx="180" cy="228.5" r="4.0"/>
<circle cx="180" cy="240.6" r="4.0"/>
<circle cx="180" cy="269.4" r="4.0"/>
<circle cx="180" cy="277.8" r="4.0"/>
<circle cx="180" cy="279.5" r="4.0"/>
<circle cx="180" cy="288.8" r="4.0"/>
<circle cx="180" cy="295.4" r="4.0"/>
<circle cx="208.2" cy="122.5" r="4.0"/>
<circle cx="208.2" cy="171.4" r="4.0"/>
<circle cx="208.2" cy="246" r="4.0"/>
<circle cx="208.2" cy="246.8" r="4.0"/>
<circle cx="208.2" cy="258.4" r="4.0"/>
<circle cx="208.2" cy="287.5" r="4.0"/>
<circle cx="208.2" cy="295.4" r="4.0"/>
<circle cx="208.2" cy="300" r="4.0"/>
<circle cx="208.2" cy="303.5" r="4.0"/>
<circle cx="208.2" cy="306" r="4.0"/>
<circle cx="208.2" cy="576.6" r="4.0"/>
<circle cx="236.3" cy="137.4" r="4.0"/>
<circle cx="236.3" cy="233.3" r="4.0"/>
<circle cx="236.3" cy="253.3" r="4.0"/>
<circle cx="236.3" cy="256.4" r="4.0"/>
<circle cx="236.3" cy="263.5" r="4.0"/>
<circle cx="236.3" cy="281.5" r="4.0"/>
<circle cx="236.3" cy="294.3" r="4.0"/>
<circle cx="236.3" cy="304.6" r="4.0"/>
<circle cx="236.3" cy="551.5" r="4.0"/>
<circle cx="236.3" cy="567.3" r="4.0"/>
<circle cx="264.5" cy="130.4" r="4.0"/>
<circle cx="264.5" cy="212.4" r="4.0"/>
<circle cx="264.5" cy="236.4" r="4.0"/>
<circle cx="264.5" cy="255.5" r="4.0"/>
<circle cx="264.5" cy="274.5" r="4.0"/>
<circle cx="264.5" cy="277.6" r="4.0"/>
<circle cx="264.5" cy="303.1" r="4.0"/>
<circle cx="264.5" cy="305.3" r="4.0"/>
<circle cx="264.5" cy="563.4" r="4.0"/>
<circle cx="292.7" cy="121.4" r="4.0"/>
<circle cx="292.7" cy="182.5" r="4.0"/>
<circle cx="292.7" cy="252" r="4.0"/>
<circle cx="292.7" cy="253" r="4.0"/>
<circle cx="292.7" cy="264.6" r="4.0"/>
<circle cx="292.7" cy="294.3" r="4.0"/>
<circle cx="292.7" cy="302.4" r="4.0"/>
<circle cx="292.7" cy="570.4" r="4.0"/>
<circle cx="320.9" cy="133.5" r="4.0"/>
<circle cx="320.9" cy="189.3" r="4.0"/>
<circle cx="320.9" cy="244.3" r="4.0"/>
<circle cx="320.9" cy="250.5" r="4.0"/>
<circle cx="320.9" cy="269.4" r="4.0"/>
<circle cx="320.9" cy="292.5" r="4.0"/>
<circle cx="349" cy="107.5" r="4.0"/>
<circle cx="349" cy="189.3" r="4.0"/>
<circle cx="349" cy="248.5" r="4.0"/>
<circle cx="349" cy="256.4" r="4.0"/>
<circle cx="349" cy="261.5" r="4.0"/>
<circle cx="377.2" cy="101.6" r="4.0"/>
<circle cx="377.2" cy="186.4" r="4.0"/>
<circle cx="377.2" cy="222.5" r="4.0"/>
<circle cx="377.2" cy="238.4" r="4.0"/>
<circle cx="377.2" cy="262.4" r="4.0"/>
<circle cx="377.2" cy="298.5" r="4.0"/>
<circle cx="405.4" cy="81.5" r="4.0"/>
<circle cx="405.4" cy="202.3" r="4.0"/>
<circle cx="405.4" cy="247.4" r="4.0"/>
<circle cx="405.4" cy="248.5" r="4.0"/>
<circle cx="405.4" cy="257.5" r="4.0"/>
<circle cx="405.4" cy="564.5" r="4.0"/>
<circle cx="405.4" cy="566.5" r="4.0"/>
<circle cx="433.6" cy="82.4" r="4.0"/>
<circle cx="433.6" cy="227" r="4.0"/>
<circle cx="433.6" cy="231.5" r="4.0"/>
<circle cx="433.6" cy="235.5" r="4.0"/>
<circle cx="433.6" cy="266.6" r="4.0"/>
<circle cx="433.6" cy="567.3" r="4.0"/>
<circle cx="433.6" cy="589.6" r="4.0"/>
<circle cx="461.7" cy="89.4" r="4.0"/>
<circle cx="461.7" cy="222.5" r="4.0"/>
<circle cx="461.7" cy="240.6" r="4.0"/>
<circle cx="461.7" cy="242.6" r="4.0"/>
<circle cx="461.7" cy="276.5" r="4.0"/>
<circle cx="461.7" cy="572.8" r="4.0"/>
<circle cx="461.7" cy="575.5" r="4.0"/>
<circle cx="461.7" cy="578.6" r="4.0"/>
<circle cx="461.7" cy="581.6" r="4.0"/>
<circle cx="489.9" cy="76.5" r="4.0"/>
<circle cx="489.9" cy="225.4" r="4.0"/>
<circle cx="489.9" cy="235.5" r="4.0"/>
<circle cx="489.9" cy="263.5" r="4.0"/>
<circle cx="489.9" cy="278.4" r="4.0"/>
<circle cx="489.9" cy="296.5" r="4.0"/>
<circle cx="489.9" cy="306.4" r="4.0"/>
<circle cx="489.9" cy="556.3" r="4.0"/>
<circle cx="489.9" cy="562.3" r="4.0"/>
<circle cx="489.9" cy="570.4" r="4.0"/>
<circle cx="489.9" cy="584.5" r="4.0"/>
<circle cx="489.9" cy="589.6" r="4.0"/>
<circle cx="518.1" cy="67.4" r="4.0"/>
<circle cx="518.1" cy="236.4" r="4.0"/>
<circle cx="518.1" cy="245.4" r="4.0"/>
<circle cx="518.1" cy="251.4" r="4.0"/>
<circle cx="518.1" cy="268.5" r="4.0"/>
<circle cx="518.1" cy="299.6" r="4.0"/>
<circle cx="518.1" cy="304.2" r="4.0"/>
<circle cx="518.1" cy="308.6" r="4.0"/>
<circle cx="518.1" cy="557.4" r="4.0"/>
<circle cx="518.1" cy="565.4" r="4.0"/>
<circle cx="518.1" cy="567.3" r="4.0"/>
<circle cx="518.1" cy="577.5" r="4.0"/>
<circle cx="518.1" cy="582.5" r="4.0"/>
<circle cx="518.1" cy="586" r="4.0"/>
<circle cx="546.3" cy="70.5" r="4.0"/>
<circle cx="546.3" cy="226.5" r="4.0"/>
<circle cx="546.3" cy="246.3" r="4.0"/>
<circle cx="546.3" cy="251.4" r="4.0"/>
<circle cx="546.3" cy="287.5" r="4.0"/>
<circle cx="546.3" cy="570.4" r="4.0"/>
<circle cx="546.3" cy="577.5" r="4.0"/>
<circle cx="546.3" cy="593.3" r="4.0"/>
<circle cx="574.4" cy="81.5" r="4.0"/>
<circle cx="574.4" cy="234.4" r="4.0"/>
<circle cx="574.4" cy="255.5" r="4.0"/>
<circle cx="574.4" cy="256.4" r="4.0"/>
<circle cx="574.4" cy="590.5" r="4.0"/>
<circle cx="574.4" cy="597.5" r="4.0"/>
<circle cx="602.6" cy="86.4" r="4.0"/>
<circle cx="602.6" cy="228.5" r="4.0"/>
<circle cx="602.6" cy="251.4" r="4.0"/>
<circle cx="602.6" cy="257.5" r="4.0"/>
<circle cx="602.6" cy="580.3" r="4.0"/>
<circle cx="602.6" cy="610.5" r="4.0"/>
<circle cx="630.8" cy="75.4" r="4.0"/>
<circle cx="630.8" cy="222.5" r="4.0"/>
<circle cx="630.8" cy="234.4" r="4.0"/>
<circle cx="630.8" cy="268.5" r="4.0"/>
<circle cx="630.8" cy="574.4" r="4.0"/>
<circle cx="630.8" cy="596.4" r="4.0"/>
<circle cx="659" cy="73.4" r="4.0"/>
<circle cx="659" cy="213.5" r="4.0"/>
<circle cx="659" cy="267.4" r="4.0"/>
<circle cx="659" cy="582.5" r="4.0"/>
<circle cx="659" cy="619.5" r="4.0"/>
<circle cx="687.1" cy="59.3" r="4.0"/>
<circle cx="687.1" cy="209.3" r="4.0"/>
<circle cx="687.1" cy="265.5" r="4.0"/>
<circle cx="687.1" cy="593.3" r="4.0"/>
<circle cx="687.1" cy="603.4" r="4.0"/>
<circle cx="715.3" cy="64.3" r="4.0"/>
<circle cx="715.3" cy="202.3" r="4.0"/>
<circle cx="715.3" cy="273.6" r="4.0"/>
<circle cx="715.3" cy="275.6" r="4.0"/>
<circle cx="715.3" cy="276.7" r="4.0"/>
<circle cx="715.3" cy="590.5" r="4.0"/>
<circle cx="715.3" cy="597.5" r="4.0"/>
<circle cx="743.5" cy="61.5" r="4.0"/>
<circle cx="743.5" cy="189.3" r="4.0"/>
<circle cx="743.5" cy="273.4" r="4.0"/>
<circle cx="743.5" cy="276.7" r="4.0"/>
<circle cx="743.5" cy="585.4" r="4.0"/>
<circle cx="743.5" cy="607.4" r="4.0"/>
<circle cx="771.7" cy="64.3" r="4.0"/>
<circle cx="771.7" cy="188.4" r="4.0"/>
<circle cx="771.7" cy="272.5" r="4.0"/>
<circle cx="771.7" cy="278.4" r="4.0"/>
<circle cx="771.7" cy="586.5" r="4.0"/>
<circle cx="771.7" cy="609.4" r="4.0"/>
</g>
<path d="M95.5 429.2L123.6 429.4L151.8 429.4L180 429.2L208.2 429.6L236.3 429.6L264.5 429.6L292.7 429.7L320.9 429.6L349 429.6L377.2 429.6L405.4 429.7L433.6 429.6L461.7 429.5L489.9 429.5L518.1 429.5L546.3 429.5L574.4 429.5L602.6 429.6L630.8 429.5L659 429.4L687.1 429.7L715.3 429L743.5 428.8L771.7 429.2" fill="none" stroke="#000" stroke-width="2.8" stroke-linejoin="round"/>
<g fill="#000">
<circle cx="95.5" cy="429.2" r="4.85"/>
<circle cx="123.6" cy="429.4" r="4.85"/>
<circle cx="151.8" cy="429.4" r="4.85"/>
<circle cx="180" cy="429.2" r="4.85"/>
<circle cx="208.2" cy="429.6" r="4.85"/>
<circle cx="236.3" cy="429.6" r="4.85"/>
<circle cx="264.5" cy="429.6" r="4.85"/>
<circle cx="292.7" cy="429.7" r="4.85"/>
<circle cx="320.9" cy="429.6" r="4.85"/>
<circle cx="349" cy="429.6" r="4.85"/>
<circle cx="377.2" cy="429.6" r="4.85"/>
<circle cx="405.4" cy="429.7" r="4.85"/>
<circle cx="433.6" cy="429.6" r="4.85"/>
<circle cx="461.7" cy="429.5" r="4.85"/>
<circle cx="489.9" cy="429.5" r="4.85"/>
<circle cx="518.1" cy="429.5" r="4.85"/>
<circle cx="546.3" cy="429.5" r="4.85"/>
<circle cx="574.4" cy="429.5" r="4.85"/>
<circle cx="602.6" cy="429.6" r="4.85"/>
<circle cx="630.8" cy="429.5" r="4.85"/>
<circle cx="659" cy="429.4" r="4.85"/>
<circle cx="687.1" cy="429.7" r="4.85"/>
<circle cx="715.3" cy="429" r="4.85"/>
<circle cx="743.5" cy="428.8" r="4.85"/>
<circle cx="771.7" cy="429.2" r="4.85"/>
</g>
<path d="M87.8 433.4H103.1M116 436.5H131.3M144.2 437.4H159.5M172.3 435.4H187.6M200.5 434.5H215.8M228.7 435.4H244M256.9 434.5H272.2M285 439.4H300.3M313.2 435.4H328.5M341.4 435.4H356.7M369.6 434.5H384.9M397.7 439.4H413M425.9 436.5H441.2M454.1 437.4H469.4M482.3 434.5H497.6M510.4 434.5H525.7M538.6 434.5H553.9M566.8 433.4H582.1M595 433.4H610.3M623.1 433.4H638.4M651.3 433.4H666.6M679.5 431.4H694.8M707.7 433.4H723M735.8 433.4H751.1M764 430.3H779.3" fill="none" stroke="#ff7f0e" stroke-width="1.4"/>
<path d="M95.5 647.7v4.8M123.5 647.7v4.8M151.5 647.7v4.8M180.5 647.7v4.8M208.5 647.7v4.8M236.5 647.7v4.8M264.5 647.7v4.8M292.5 647.7v4.8M320.5 647.7v4.8M349.5 647.7v4.8M377.5 647.7v4.8M405.5 647.7v4.8M433.5 647.7v4.8M461.5 647.7v4.8M490.5 647.7v4.8M518.5 647.7v4.8M546.5 647.7v4.8M574.5 647.7v4.8M602.5 647.7v4.8M631.5 647.7v4.8M659.5 647.7v4.8M687.5 647.7v4.8M715.5 647.7v4.8M743.5 647.7v4.8M771.5 647.7v4.8M80.3 48.5h-4.1M80.3 176.5h-4.1M80.3 303.5h-4.1M80.3 431.5h-4.1M80.3 558.5h-4.1" stroke="#000" stroke-width="1.1" fill="none"/>
<text x="70.7" y="53.6" text-anchor="end" textLength="29.6" lengthAdjust="spacingAndGlyphs" class="t">0.15</text>
<text x="70.7" y="181.6" text-anchor="end" textLength="29.6" lengthAdjust="spacingAndGlyphs" class="t">0.10</text>
<text x="70.7" y="308.6" text-anchor="end" textLength="29.6" lengthAdjust="spacingAndGlyphs" class="t">0.05</text>
<text x="70.7" y="436.6" text-anchor="end" textLength="29.6" lengthAdjust="spacingAndGlyphs" class="t">0.00</text>
<text x="70.7" y="563.6" text-anchor="end" textLength="41.4" lengthAdjust="spacingAndGlyphs" class="t">−0.05</text>
<text transform="translate(99 659.8) rotate(-90)" text-anchor="end" textLength="61.0" lengthAdjust="spacingAndGlyphs" class="t">01:30:00</text>
<text transform="translate(127 659.8) rotate(-90)" text-anchor="end" textLength="61.0" lengthAdjust="spacingAndGlyphs" class="t">01:40:00</text>
<text transform="translate(155 659.8) rotate(-90)" text-anchor="end" textLength="61.0" lengthAdjust="spacingAndGlyphs" class="t">01:50:00</text>
<text transform="translate(184 659.8) rotate(-90)" text-anchor="end" textLength="61.0" lengthAdjust="spacingAndGlyphs" class="t">02:00:00</text>
<text transform="translate(212 659.8) rotate(-90)" text-anchor="end" textLength="61.0" lengthAdjust="spacingAndGlyphs" class="t">02:10:00</text>
<text transform="translate(240 659.8) rotate(-90)" text-anchor="end" textLength="61.0" lengthAdjust="spacingAndGlyphs" class="t">02:20:00</text>
<text transform="translate(268 659.8) rotate(-90)" text-anchor="end" textLength="61.0" lengthAdjust="spacingAndGlyphs" class="t">02:30:00</text>
<text transform="translate(296 659.8) rotate(-90)" text-anchor="end" textLength="61.0" lengthAdjust="spacingAndGlyphs" class="t">02:40:00</text>
<text transform="translate(324 659.8) rotate(-90)" text-anchor="end" textLength="61.0" lengthAdjust="spacingAndGlyphs" class="t">02:50:00</text>
<text transform="translate(353 659.8) rotate(-90)" text-anchor="end" textLength="61.0" lengthAdjust="spacingAndGlyphs" class="t">03:00:00</text>
<text transform="translate(381 659.8) rotate(-90)" text-anchor="end" textLength="61.0" lengthAdjust="spacingAndGlyphs" class="t">03:10:00</text>
<text transform="translate(409 659.8) rotate(-90)" text-anchor="end" textLength="61.0" lengthAdjust="spacingAndGlyphs" class="t">03:20:00</text>
<text transform="translate(437 659.8) rotate(-90)" text-anchor="end" textLength="61.0" lengthAdjust="spacingAndGlyphs" class="t">05:00:00</text>
<text transform="translate(465 659.8) rotate(-90)" text-anchor="end" textLength="61.0" lengthAdjust="spacingAndGlyphs" class="t">05:10:00</text>
<text transform="translate(494 659.8) rotate(-90)" text-anchor="end" textLength="61.0" lengthAdjust="spacingAndGlyphs" class="t">05:20:00</text>
<text transform="translate(522 659.8) rotate(-90)" text-anchor="end" textLength="61.0" lengthAdjust="spacingAndGlyphs" class="t">05:30:00</text>
<text transform="translate(550 659.8) rotate(-90)" text-anchor="end" textLength="61.0" lengthAdjust="spacingAndGlyphs" class="t">05:40:00</text>
<text transform="translate(578 659.8) rotate(-90)" text-anchor="end" textLength="61.0" lengthAdjust="spacingAndGlyphs" class="t">05:50:00</text>
<text transform="translate(606 659.8) rotate(-90)" text-anchor="end" textLength="61.0" lengthAdjust="spacingAndGlyphs" class="t">06:00:00</text>
<text transform="translate(635 659.8) rotate(-90)" text-anchor="end" textLength="61.0" lengthAdjust="spacingAndGlyphs" class="t">06:10:00</text>
<text transform="translate(663 659.8) rotate(-90)" text-anchor="end" textLength="61.0" lengthAdjust="spacingAndGlyphs" class="t">06:20:00</text>
<text transform="translate(691 659.8) rotate(-90)" text-anchor="end" textLength="61.0" lengthAdjust="spacingAndGlyphs" class="t">06:30:00</text>
<text transform="translate(719 659.8) rotate(-90)" text-anchor="end" textLength="61.0" lengthAdjust="spacingAndGlyphs" class="t">06:40:00</text>
<text transform="translate(747 659.8) rotate(-90)" text-anchor="end" textLength="61.0" lengthAdjust="spacingAndGlyphs" class="t">06:50:00</text>
<text transform="translate(775 659.8) rotate(-90)" text-anchor="end" textLength="61.0" lengthAdjust="spacingAndGlyphs" class="t">07:00:00</text>
<rect x="88.4" y="38.3" width="88" height="25" rx="2.8" fill="#fff" fill-opacity="0.8" stroke="#ccc" stroke-width="1.1"/>
<path d="M92.2 50.4H122.6" stroke="#000" stroke-width="2.8"/><circle cx="107.5" cy="50.4" r="4.85"/>
<text x="133" y="55.4" textLength="36.5" lengthAdjust="spacingAndGlyphs" class="t">Mean</text>
<text x="433.1" y="23" text-anchor="middle" textLength="359.4" lengthAdjust="spacingAndGlyphs" class="ti">Inter-Day Return by Time of Day</text>
<text x="433" y="736.8" text-anchor="middle" textLength="108.5" lengthAdjust="spacingAndGlyphs" class="lb">Time (GMT)</text>
<text transform="translate(19.1 340.2) rotate(-90)" text-anchor="middle" textLength="158" lengthAdjust="spacingAndGlyphs" class="lb">Inter-Day Return</text>
<path d="M940.5 32.7V648M969.5 32.7V648M997.5 32.7V648M1025.5 32.7V648M1053.5 32.7V648M1081.5 32.7V648M1110.5 32.7V648M1138.5 32.7V648M1166.5 32.7V648M1194.5 32.7V648M1222.5 32.7V648M1250.5 32.7V648M1279.5 32.7V648M1307.5 32.7V648M1335.5 32.7V648M1363.5 32.7V648M1391.5 32.7V648M1420.5 32.7V648M1448.5 32.7V648M1476.5 32.7V648M1504.5 32.7V648M1532.5 32.7V648M1561.5 32.7V648M1589.5 32.7V648M1617.5 32.7V648M927.4 48.5H1630M927.4 176.5H1630M927.4 303.5H1630M927.4 431.5H1630M927.4 558.5H1630" stroke="#b0b0b0" stroke-opacity="0.78" stroke-width="0.8" stroke-dasharray="2.1 0.9" fill="none"/>
<path d="M933.9 402.3H947.9V458.5H933.9ZM962 411.3H976.1V454H962ZM990.2 405H1004.3V449H990.2ZM1018.4 410.4H1032.5V450H1018.4ZM1046.6 410H1060.7V452H1046.6ZM1074.8 408.4H1088.9V450H1074.8ZM1103 406.7H1117.1V463H1103ZM1131.2 403.4H1145.3V460H1131.2ZM1159.4 408.4H1173.5V455H1159.4ZM1187.6 410.4H1201.7V462H1187.6ZM1215.8 411.5H1229.8V462H1215.8ZM1243.9 408H1258V460H1243.9ZM1272.1 405.4H1286.2V455H1272.1ZM1300.3 408H1314.4V457H1300.3ZM1328.5 402H1342.6V457H1328.5ZM1356.7 394H1370.8V465H1356.7ZM1384.9 397H1399V468H1384.9ZM1413.1 402H1427.2V461H1413.1ZM1441.3 406H1455.4V454H1441.3ZM1469.5 412H1483.6V463H1469.5ZM1497.7 400H1511.7V466H1497.7ZM1525.8 408H1539.9V460H1525.8ZM1554 404H1568.1V466H1554ZM1582.2 404H1596.3V460H1582.2ZM1610.4 403H1624.5V464H1610.4Z" fill="none" stroke="#0000ff" stroke-opacity="0.5" stroke-width="1.25"/>
<path d="M940.5 402.3V354.5M940.5 458.5V499M937.4 354.5h7M937.4 499h7M969.5 411.3V364.5M969.5 454V500M965.6 364.5h7M965.6 500h7M997.5 405V356M997.5 449V493M993.8 356h7M993.8 493h7M1025.5 410.4V380M1025.5 450V491.5M1021.9 380h7M1021.9 491.5h7M1053.5 410V408M1053.5 452V495.5M1050.1 408h7M1050.1 495.5h7M1081.5 408.4V376M1081.5 450V507.4M1078.3 376h7M1078.3 507.4h7M1110.5 406.7V345M1110.5 463V513.3M1106.5 345h7M1106.5 513.3h7M1138.5 403.4V348M1138.5 460V509.4M1134.7 348h7M1134.7 509.4h7M1166.5 408.4V358M1166.5 455V510.3M1162.9 358h7M1162.9 510.3h7M1194.5 410.4V339M1194.5 462V490.5M1191.1 339h7M1191.1 490.5h7M1222.5 411.5V367M1222.5 462V513.6M1219.3 367h7M1219.3 513.6h7M1250.5 408V371M1250.5 460V509.4M1247.5 371h7M1247.5 509.4h7M1279.5 405.4V364M1279.5 455V523.5M1275.7 364h7M1275.7 523.5h7M1307.5 408V340M1307.5 457V518M1303.8 340h7M1303.8 518h7M1335.5 402V344M1335.5 457V516M1332 344h7M1332 516h7M1363.5 394V340M1363.5 465V532M1360.2 340h7M1360.2 532h7M1391.5 397V337M1391.5 468V537M1388.4 337h7M1388.4 537h7M1420.5 402V322M1420.5 461V546M1416.6 322h7M1416.6 546h7M1448.5 406V336M1448.5 454V505M1444.8 336h7M1444.8 505h7M1476.5 412V349M1476.5 463V525M1473 349h7M1473 525h7M1504.5 400V328M1504.5 466V524M1501.2 328h7M1501.2 524h7M1532.5 408V328M1532.5 460V546M1529.4 328h7M1529.4 546h7M1561.5 404V335M1561.5 466V541M1557.6 335h7M1557.6 541h7M1589.5 404V337M1589.5 460V528M1585.7 337h7M1585.7 528h7M1617.5 403V336M1617.5 464V549M1613.9 336h7M1613.9 549h7" fill="none" stroke="#0000ff" stroke-opacity="0.5" stroke-width="1.4" stroke-linecap="square"/>
<g fill="#0000ff" fill-opacity="0.5">
<circle cx="940.9" cy="302.4" r="3.5"/>
<circle cx="940.9" cy="569.7" r="3.5"/>
<circle cx="969.1" cy="315.4" r="3.5"/>
<circle cx="969.1" cy="346.6" r="3.5"/>
<circle cx="969.1" cy="601.5" r="3.5"/>
<circle cx="997.3" cy="280.4" r="3.5"/>
<circle cx="997.3" cy="521.5" r="3.5"/>
<circle cx="997.3" cy="596.4" r="3.5"/>
<circle cx="1025.5" cy="511.4" r="3.5"/>
<circle cx="1025.5" cy="520.8" r="3.5"/>
<circle cx="1025.5" cy="545" r="3.5"/>
<circle cx="1053.7" cy="287.5" r="3.5"/>
<circle cx="1053.7" cy="521" r="3.5"/>
<circle cx="1081.8" cy="331.4" r="3.5"/>
<circle cx="1222.8" cy="298.5" r="3.5"/>
<circle cx="1251" cy="311.5" r="3.5"/>
<circle cx="1279.2" cy="321" r="3.5"/>
<circle cx="1307.4" cy="540.5" r="3.5"/>
<circle cx="1335.6" cy="541.4" r="3.5"/>
<circle cx="1448.3" cy="323.5" r="3.5"/>
<circle cx="1448.3" cy="527.5" r="3.5"/>
<circle cx="1448.3" cy="541.4" r="3.5"/>
<circle cx="1476.5" cy="312.5" r="3.5"/>
<circle cx="1476.5" cy="330.5" r="3.5"/>
<circle cx="1504.7" cy="291.6" r="3.5"/>
<circle cx="1532.9" cy="289.8" r="3.5"/>
<circle cx="1532.9" cy="558.5" r="3.5"/>
<circle cx="1561.1" cy="274.5" r="3.5"/>
<circle cx="1561.1" cy="559.4" r="3.5"/>
<circle cx="1589.3" cy="273.6" r="3.5"/>
<circle cx="1589.3" cy="546.4" r="3.5"/>
<circle cx="1589.3" cy="554.3" r="3.5"/>
<circle cx="1617.5" cy="272.5" r="3.5"/>
<circle cx="1617.5" cy="559.4" r="3.5"/>
</g>
<path d="M940.9 428.8L969.1 432.4L997.3 431.7L1025.5 433.2L1053.7 432.4L1081.8 432.4L1110 432.9L1138.2 433.5L1166.4 433L1194.6 432.5L1222.8 432.5L1251 432.5L1279.2 431L1307.4 431L1335.6 431.5L1363.8 432L1391.9 432L1420.1 432L1448.3 432L1476.5 432L1504.7 432L1532.9 432L1561.1 431.5L1589.3 431.5L1617.5 431.5" fill="none" stroke="#0000ff" stroke-opacity="0.7" stroke-width="2.8" stroke-linejoin="round"/>
<g opacity="0.7">
<rect x="936.4" y="424.4" width="8.9" height="8.9" fill="#0000ff"/>
<rect x="964.6" y="427.9" width="8.9" height="8.9" fill="#0000ff"/>
<rect x="992.8" y="427.2" width="8.9" height="8.9" fill="#0000ff"/>
<rect x="1021" y="428.8" width="8.9" height="8.9" fill="#0000ff"/>
<rect x="1049.2" y="427.9" width="8.9" height="8.9" fill="#0000ff"/>
<rect x="1077.4" y="427.9" width="8.9" height="8.9" fill="#0000ff"/>
<rect x="1105.6" y="428.4" width="8.9" height="8.9" fill="#0000ff"/>
<rect x="1133.8" y="429.1" width="8.9" height="8.9" fill="#0000ff"/>
<rect x="1162" y="428.6" width="8.9" height="8.9" fill="#0000ff"/>
<rect x="1190.2" y="428.1" width="8.9" height="8.9" fill="#0000ff"/>
<rect x="1218.3" y="428.1" width="8.9" height="8.9" fill="#0000ff"/>
<rect x="1246.5" y="428.1" width="8.9" height="8.9" fill="#0000ff"/>
<rect x="1274.7" y="426.6" width="8.9" height="8.9" fill="#0000ff"/>
<rect x="1302.9" y="426.6" width="8.9" height="8.9" fill="#0000ff"/>
<rect x="1331.1" y="427.1" width="8.9" height="8.9" fill="#0000ff"/>
<rect x="1359.3" y="427.6" width="8.9" height="8.9" fill="#0000ff"/>
<rect x="1387.5" y="427.6" width="8.9" height="8.9" fill="#0000ff"/>
<rect x="1415.7" y="427.6" width="8.9" height="8.9" fill="#0000ff"/>
<rect x="1443.9" y="427.6" width="8.9" height="8.9" fill="#0000ff"/>
<rect x="1472.1" y="427.6" width="8.9" height="8.9" fill="#0000ff"/>
<rect x="1500.2" y="427.6" width="8.9" height="8.9" fill="#0000ff"/>
<rect x="1528.4" y="427.6" width="8.9" height="8.9" fill="#0000ff"/>
<rect x="1556.6" y="427.1" width="8.9" height="8.9" fill="#0000ff"/>
<rect x="1584.8" y="427.1" width="8.9" height="8.9" fill="#0000ff"/>
<rect x="1613" y="427.1" width="8.9" height="8.9" fill="#0000ff"/>
</g>
<path d="M933.9 400H947.9V487H933.9ZM962 404.5H976.1V486H962ZM990.2 402.3H1004.3V485.4H990.2ZM1018.4 405H1032.5V488.3H1018.4ZM1046.6 405.6H1060.7V488.3H1046.6ZM1074.8 413.3H1088.9V479.4H1074.8ZM1103 412.4H1117.1V477.2H1103ZM1131.2 411H1145.3V483.4H1131.2ZM1159.4 414.4H1173.5V476H1159.4ZM1187.6 417.3H1201.7V478H1187.6ZM1215.8 409.5H1229.8V482H1215.8ZM1243.9 410H1258V476.5H1243.9ZM1272.1 412H1286.2V470H1272.1ZM1300.3 417H1314.4V468H1300.3ZM1328.5 414H1342.6V471H1328.5ZM1356.7 416H1370.8V469H1356.7ZM1384.9 406H1399V474.5H1384.9ZM1413.1 400H1427.2V469H1413.1ZM1441.3 400H1455.4V467H1441.3ZM1469.5 392H1483.6V468H1469.5ZM1497.7 389H1511.7V476.5H1497.7ZM1525.8 386H1539.9V473H1525.8ZM1554 391H1568.1V478.5H1554ZM1582.2 385H1596.3V476H1582.2ZM1610.4 389H1624.5V468H1610.4Z" fill="none" stroke="#ffa500" stroke-opacity="0.5" stroke-width="1.25"/>
<path d="M940.5 400V307.5M940.5 487V566.5M937.4 307.5h7M937.4 566.5h7M969.5 404.5V282.4M969.5 486V548.4M965.6 282.4h7M965.6 548.4h7M997.5 402.3V292.5M997.5 485.4V546.4M993.8 292.5h7M993.8 546.4h7M1025.5 405V289.5M1025.5 488.3V562.3M1021.9 289.5h7M1021.9 562.3h7M1053.5 405.6V305.3M1053.5 488.3V546.4M1050.1 305.3h7M1050.1 546.4h7M1081.5 413.3V330M1081.5 479.4V547.5M1078.3 330h7M1078.3 547.5h7M1110.5 412.4V340M1110.5 477.2V548.4M1106.5 340h7M1106.5 548.4h7M1138.5 411V330M1138.5 483.4V538.5M1134.7 330h7M1134.7 538.5h7M1166.5 414.4V327M1166.5 476V546.4M1162.9 327h7M1162.9 546.4h7M1194.5 417.3V351M1194.5 478V547.5M1191.1 351h7M1191.1 547.5h7M1222.5 409.5V320M1222.5 482V567.3M1219.3 320h7M1219.3 567.3h7M1250.5 410V325M1250.5 476.5V566.5M1247.5 325h7M1247.5 566.5h7M1279.5 412V344M1279.5 470V517M1275.7 344h7M1275.7 517h7M1307.5 417V347M1307.5 468V522M1303.8 347h7M1303.8 522h7M1335.5 414V351M1335.5 471V527.5M1332 351h7M1332 527.5h7M1363.5 416V343M1363.5 469V528.5M1360.2 343h7M1360.2 528.5h7M1391.5 406V309.5M1391.5 474.5V570.4M1388.4 309.5h7M1388.4 570.4h7M1420.5 400V340M1420.5 469V558.5M1416.6 340h7M1416.6 558.5h7M1448.5 400V318M1448.5 467V536M1444.8 318h7M1444.8 536h7M1476.5 392V312.4M1476.5 468V568.4M1473 312.4h7M1473 568.4h7M1504.5 389V267.4M1504.5 476.5V562.3M1501.2 267.4h7M1501.2 562.3h7M1532.5 386V265.5M1532.5 473V549M1529.4 265.5h7M1529.4 549h7M1561.5 391V276.5M1561.5 478.5V562M1557.6 276.5h7M1557.6 562h7M1589.5 385V276.5M1589.5 476V560M1585.7 276.5h7M1585.7 560h7M1617.5 389V281.5M1617.5 468V561M1613.9 281.5h7M1613.9 561h7" fill="none" stroke="#ffa500" stroke-opacity="0.5" stroke-width="1.4" stroke-linecap="square"/>
<g fill="#ffa500" fill-opacity="0.5">
<circle cx="940.9" cy="230.5" r="3.5"/>
<circle cx="969.1" cy="211.5" r="3.5"/>
<circle cx="997.3" cy="188.4" r="3.5"/>
<circle cx="1025.5" cy="228.5" r="3.5"/>
<circle cx="1053.7" cy="246.3" r="3.5"/>
<circle cx="1081.8" cy="263.5" r="3.5"/>
<circle cx="1081.8" cy="304.6" r="3.5"/>
<circle cx="1110" cy="255.5" r="3.5"/>
<circle cx="1110" cy="303.5" r="3.5"/>
<circle cx="1110" cy="311.5" r="3.5"/>
<circle cx="1138.2" cy="252.5" r="3.5"/>
<circle cx="1166.4" cy="244.3" r="3.5"/>
<circle cx="1194.6" cy="256.4" r="3.5"/>
<circle cx="1194.6" cy="330.5" r="3.5"/>
<circle cx="1194.6" cy="335.4" r="3.5"/>
<circle cx="1222.8" cy="238.4" r="3.5"/>
<circle cx="1251" cy="247.4" r="3.5"/>
<circle cx="1279.2" cy="235.5" r="3.5"/>
<circle cx="1279.2" cy="589.6" r="3.5"/>
<circle cx="1307.4" cy="240.6" r="3.5"/>
<circle cx="1307.4" cy="333" r="3.5"/>
<circle cx="1307.4" cy="581.4" r="3.5"/>
<circle cx="1335.6" cy="235.5" r="3.5"/>
<circle cx="1335.6" cy="317.4" r="3.5"/>
<circle cx="1335.6" cy="562.3" r="3.5"/>
<circle cx="1363.8" cy="245.4" r="3.5"/>
<circle cx="1363.8" cy="308.6" r="3.5"/>
<circle cx="1363.8" cy="582.5" r="3.5"/>
<circle cx="1391.9" cy="246.3" r="3.5"/>
<circle cx="1420.1" cy="256.4" r="3.5"/>
<circle cx="1420.1" cy="301.6" r="3.5"/>
<circle cx="1448.3" cy="251.4" r="3.5"/>
<circle cx="1448.3" cy="571.5" r="3.5"/>
<circle cx="1476.5" cy="234.4" r="3.5"/>
</g>
<path d="M940.9 439L969.1 436.8L997.3 435.8L1025.5 439.8L1053.7 440.5L1081.8 436.8L1110 436.8L1138.2 437.5L1166.4 436.5L1194.6 437.8L1222.8 437L1251 437L1279.2 436.5L1307.4 435.5L1335.6 434.5L1363.8 433.5L1391.9 432.5L1420.1 432L1448.3 432L1476.5 431.5L1504.7 431L1532.9 430.5L1561.1 431L1589.3 431L1617.5 430.5" fill="none" stroke="#ffa500" stroke-opacity="0.7" stroke-width="2.8" stroke-linejoin="round"/>
<g opacity="0.7">
<path d="M936.7 439h8.4M940.9 434.8v8.4" stroke="#ffa500" stroke-width="1.3" fill="none"/>
<path d="M964.9 436.8h8.4M969.1 432.6v8.4" stroke="#ffa500" stroke-width="1.3" fill="none"/>
<path d="M993.1 435.8h8.4M997.3 431.6v8.4" stroke="#ffa500" stroke-width="1.3" fill="none"/>
<path d="M1021.3 439.8h8.4M1025.5 435.6v8.4" stroke="#ffa500" stroke-width="1.3" fill="none"/>
<path d="M1049.5 440.5h8.4M1053.7 436.3v8.4" stroke="#ffa500" stroke-width="1.3" fill="none"/>
<path d="M1077.6 436.8h8.4M1081.8 432.6v8.4" stroke="#ffa500" stroke-width="1.3" fill="none"/>
<path d="M1105.8 436.8h8.4M1110 432.6v8.4" stroke="#ffa500" stroke-width="1.3" fill="none"/>
<path d="M1134 437.5h8.4M1138.2 433.3v8.4" stroke="#ffa500" stroke-width="1.3" fill="none"/>
<path d="M1162.2 436.5h8.4M1166.4 432.3v8.4" stroke="#ffa500" stroke-width="1.3" fill="none"/>
<path d="M1190.4 437.8h8.4M1194.6 433.6v8.4" stroke="#ffa500" stroke-width="1.3" fill="none"/>
<path d="M1218.6 437h8.4M1222.8 432.8v8.4" stroke="#ffa500" stroke-width="1.3" fill="none"/>
<path d="M1246.8 437h8.4M1251 432.8v8.4" stroke="#ffa500" stroke-width="1.3" fill="none"/>
<path d="M1275 436.5h8.4M1279.2 432.3v8.4" stroke="#ffa500" stroke-width="1.3" fill="none"/>
<path d="M1303.2 435.5h8.4M1307.4 431.3v8.4" stroke="#ffa500" stroke-width="1.3" fill="none"/>
<path d="M1331.4 434.5h8.4M1335.6 430.3v8.4" stroke="#ffa500" stroke-width="1.3" fill="none"/>
<path d="M1359.5 433.5h8.4M1363.8 429.3v8.4" stroke="#ffa500" stroke-width="1.3" fill="none"/>
<path d="M1387.7 432.5h8.4M1391.9 428.3v8.4" stroke="#ffa500" stroke-width="1.3" fill="none"/>
<path d="M1415.9 432h8.4M1420.1 427.8v8.4" stroke="#ffa500" stroke-width="1.3" fill="none"/>
<path d="M1444.1 432h8.4M1448.3 427.8v8.4" stroke="#ffa500" stroke-width="1.3" fill="none"/>
<path d="M1472.3 431.5h8.4M1476.5 427.3v8.4" stroke="#ffa500" stroke-width="1.3" fill="none"/>
<path d="M1500.5 431h8.4M1504.7 426.8v8.4" stroke="#ffa500" stroke-width="1.3" fill="none"/>
<path d="M1528.7 430.5h8.4M1532.9 426.3v8.4" stroke="#ffa500" stroke-width="1.3" fill="none"/>
<path d="M1556.9 431h8.4M1561.1 426.8v8.4" stroke="#ffa500" stroke-width="1.3" fill="none"/>
<path d="M1585.1 431h8.4M1589.3 426.8v8.4" stroke="#ffa500" stroke-width="1.3" fill="none"/>
<path d="M1613.3 430.5h8.4M1617.5 426.3v8.4" stroke="#ffa500" stroke-width="1.3" fill="none"/>
</g>
<path d="M933.9 395.2H947.9V473H933.9ZM962 412.4H976.1V464H962ZM990.2 406.7H1004.3V463H990.2ZM1018.4 408.4H1032.5V465H1018.4ZM1046.6 404.5H1060.7V460H1046.6ZM1074.8 418.4H1088.9V458H1074.8ZM1103 416.4H1117.1V452H1103ZM1131.2 402.5H1145.3V456H1131.2ZM1159.4 402.3H1173.5V456H1159.4ZM1187.6 400H1201.7V458H1187.6ZM1215.8 403.4H1229.8V456H1215.8ZM1243.9 403.4H1258V455H1243.9ZM1272.1 411H1286.2V456H1272.1ZM1300.3 408H1314.4V459H1300.3ZM1328.5 408H1342.6V455H1328.5ZM1356.7 416H1370.8V452H1356.7ZM1384.9 413H1399V456H1384.9ZM1413.1 403H1427.2V461H1413.1ZM1441.3 399H1455.4V459H1441.3ZM1469.5 400H1483.6V461H1469.5ZM1497.7 398H1511.7V461H1497.7ZM1525.8 396H1539.9V460H1525.8ZM1554 391H1568.1V461H1554ZM1582.2 391H1596.3V457H1582.2ZM1610.4 386H1624.5V455H1610.4Z" fill="none" stroke="#008000" stroke-opacity="0.5" stroke-width="1.25"/>
<path d="M940.5 395.2V278.5M940.5 473V530.5M937.4 278.5h7M937.4 530.5h7M969.5 412.4V349M969.5 464V520.4M965.6 349h7M965.6 520.4h7M997.5 406.7V324M997.5 463V533M993.8 324h7M993.8 533h7M1025.5 408.4V339M1025.5 465V495.5M1021.9 339h7M1021.9 495.5h7M1053.5 404.5V325M1053.5 460V524M1050.1 325h7M1050.1 524h7M1081.5 418.4V363M1081.5 458V512.5M1078.3 363h7M1078.3 512.5h7M1110.5 416.4V366M1110.5 452V504.3M1106.5 366h7M1106.5 504.3h7M1138.5 402.5V351M1138.5 456V502.3M1134.7 351h7M1134.7 502.3h7M1166.5 402.3V333M1166.5 456V514.5M1162.9 333h7M1162.9 514.5h7M1194.5 400V333M1194.5 458V516.4M1191.1 333h7M1191.1 516.4h7M1222.5 403.4V333M1222.5 456V513.6M1219.3 333h7M1219.3 513.6h7M1250.5 403.4V326M1250.5 455V513.3M1247.5 326h7M1247.5 513.3h7M1279.5 411V364M1279.5 456V515M1275.7 364h7M1275.7 515h7M1307.5 408V345M1307.5 459V513M1303.8 345h7M1303.8 513h7M1335.5 408V339M1335.5 455V521M1332 339h7M1332 521h7M1363.5 416V365M1363.5 452V498M1360.2 365h7M1360.2 498h7M1391.5 413V351M1391.5 456V507M1388.4 351h7M1388.4 507h7M1420.5 403V340M1420.5 461V537M1416.6 340h7M1416.6 537h7M1448.5 399V336M1448.5 459V546M1444.8 336h7M1444.8 546h7M1476.5 400V356M1476.5 461V554.3M1473 356h7M1473 554.3h7M1504.5 398V341M1504.5 461V535M1501.2 341h7M1501.2 535h7M1532.5 396V350M1532.5 460V544M1529.4 350h7M1529.4 544h7M1561.5 391V301.6M1561.5 461V554M1557.6 301.6h7M1557.6 554h7M1589.5 391V339M1589.5 457V535M1585.7 339h7M1585.7 535h7M1617.5 386V330M1617.5 455V560M1613.9 330h7M1613.9 560h7" fill="none" stroke="#008000" stroke-opacity="0.5" stroke-width="1.4" stroke-linecap="square"/>
<g fill="#008000" fill-opacity="0.5">
<circle cx="969.1" cy="276.2" r="3.5"/>
<circle cx="969.1" cy="286.6" r="3.5"/>
<circle cx="969.1" cy="297.6" r="3.5"/>
<circle cx="969.1" cy="317" r="3.5"/>
<circle cx="969.1" cy="318.4" r="3.5"/>
<circle cx="969.1" cy="332.3" r="3.5"/>
<circle cx="997.3" cy="292.5" r="3.5"/>
<circle cx="997.3" cy="304.2" r="3.5"/>
<circle cx="1025.5" cy="278" r="3.5"/>
<circle cx="1025.5" cy="279.5" r="3.5"/>
<circle cx="1025.5" cy="302.4" r="3.5"/>
<circle cx="1053.7" cy="258.4" r="3.5"/>
<circle cx="1053.7" cy="306" r="3.5"/>
<circle cx="1053.7" cy="319.6" r="3.5"/>
<circle cx="1081.8" cy="256.4" r="3.5"/>
<circle cx="1081.8" cy="294.3" r="3.5"/>
<circle cx="1081.8" cy="318" r="3.5"/>
<circle cx="1110" cy="236.4" r="3.5"/>
<circle cx="1110" cy="321.5" r="3.5"/>
<circle cx="1110" cy="328.5" r="3.5"/>
<circle cx="1110" cy="337.3" r="3.5"/>
<circle cx="1110" cy="342.8" r="3.5"/>
<circle cx="1110" cy="512.5" r="3.5"/>
<circle cx="1138.2" cy="252.5" r="3.5"/>
<circle cx="1138.2" cy="313.5" r="3.5"/>
<circle cx="1166.4" cy="250.5" r="3.5"/>
<circle cx="1166.4" cy="304.6" r="3.5"/>
<circle cx="1166.4" cy="317" r="3.5"/>
<circle cx="1194.6" cy="248.5" r="3.5"/>
<circle cx="1222.8" cy="222.5" r="3.5"/>
<circle cx="1251" cy="257.5" r="3.5"/>
<circle cx="1279.2" cy="266.6" r="3.5"/>
<circle cx="1279.2" cy="327.4" r="3.5"/>
<circle cx="1279.2" cy="334.5" r="3.5"/>
<circle cx="1307.4" cy="276.5" r="3.5"/>
<circle cx="1307.4" cy="322.4" r="3.5"/>
<circle cx="1307.4" cy="333" r="3.5"/>
<circle cx="1335.6" cy="278.4" r="3.5"/>
<circle cx="1335.6" cy="335.4" r="3.5"/>
<circle cx="1363.8" cy="251.4" r="3.5"/>
<circle cx="1363.8" cy="343.5" r="3.5"/>
<circle cx="1363.8" cy="348.3" r="3.5"/>
<circle cx="1363.8" cy="353.8" r="3.5"/>
<circle cx="1363.8" cy="510.3" r="3.5"/>
<circle cx="1363.8" cy="523.3" r="3.5"/>
<circle cx="1363.8" cy="523.3" r="3.5"/>
<circle cx="1391.9" cy="251.4" r="3.5"/>
<circle cx="1391.9" cy="339.3" r="3.5"/>
<circle cx="1391.9" cy="523.3" r="3.5"/>
<circle cx="1391.9" cy="531.4" r="3.5"/>
<circle cx="1391.9" cy="540.5" r="3.5"/>
<circle cx="1420.1" cy="255.5" r="3.5"/>
<circle cx="1420.1" cy="550.4" r="3.5"/>
<circle cx="1448.3" cy="257.5" r="3.5"/>
<circle cx="1476.5" cy="268.5" r="3.5"/>
<circle cx="1504.7" cy="280.4" r="3.5"/>
<circle cx="1504.7" cy="557.4" r="3.5"/>
<circle cx="1532.9" cy="287.5" r="3.5"/>
<circle cx="1532.9" cy="580.3" r="3.5"/>
<circle cx="1561.1" cy="576.6" r="3.5"/>
<circle cx="1589.3" cy="284.4" r="3.5"/>
<circle cx="1589.3" cy="559.6" r="3.5"/>
<circle cx="1589.3" cy="562.3" r="3.5"/>
<circle cx="1617.5" cy="278.4" r="3.5"/>
<circle cx="1617.5" cy="559.4" r="3.5"/>
</g>
<path d="M940.9 423.6L969.1 427.6L997.3 431.7L1025.5 425L1053.7 426.6L1081.8 428L1110 425.8L1138.2 423.6L1166.4 423.2L1194.6 425.5L1222.8 426.5L1251 427.5L1279.2 428L1307.4 428L1335.6 428.5L1363.8 429L1391.9 430L1420.1 430.5L1448.3 429.5L1476.5 431L1504.7 430.5L1532.9 431L1561.1 430.5L1589.3 429.5L1617.5 427.5" fill="none" stroke="#008000" stroke-opacity="0.7" stroke-width="2.8" stroke-linejoin="round"/>
<g opacity="0.7">
<path d="M937.1 419.8l7.6 7.6M937.1 427.4l7.6 -7.6" stroke="#008000" stroke-width="1.3" fill="none"/>
<path d="M965.3 423.8l7.6 7.6M965.3 431.4l7.6 -7.6" stroke="#008000" stroke-width="1.3" fill="none"/>
<path d="M993.5 427.9l7.6 7.6M993.5 435.5l7.6 -7.6" stroke="#008000" stroke-width="1.3" fill="none"/>
<path d="M1021.7 421.2l7.6 7.6M1021.7 428.8l7.6 -7.6" stroke="#008000" stroke-width="1.3" fill="none"/>
<path d="M1049.9 422.8l7.6 7.6M1049.9 430.4l7.6 -7.6" stroke="#008000" stroke-width="1.3" fill="none"/>
<path d="M1078 424.2l7.6 7.6M1078 431.8l7.6 -7.6" stroke="#008000" stroke-width="1.3" fill="none"/>
<path d="M1106.2 422l7.6 7.6M1106.2 429.6l7.6 -7.6" stroke="#008000" stroke-width="1.3" fill="none"/>
<path d="M1134.4 419.8l7.6 7.6M1134.4 427.4l7.6 -7.6" stroke="#008000" stroke-width="1.3" fill="none"/>
<path d="M1162.6 419.4l7.6 7.6M1162.6 427l7.6 -7.6" stroke="#008000" stroke-width="1.3" fill="none"/>
<path d="M1190.8 421.7l7.6 7.6M1190.8 429.3l7.6 -7.6" stroke="#008000" stroke-width="1.3" fill="none"/>
<path d="M1219 422.7l7.6 7.6M1219 430.3l7.6 -7.6" stroke="#008000" stroke-width="1.3" fill="none"/>
<path d="M1247.2 423.7l7.6 7.6M1247.2 431.3l7.6 -7.6" stroke="#008000" stroke-width="1.3" fill="none"/>
<path d="M1275.4 424.2l7.6 7.6M1275.4 431.8l7.6 -7.6" stroke="#008000" stroke-width="1.3" fill="none"/>
<path d="M1303.6 424.2l7.6 7.6M1303.6 431.8l7.6 -7.6" stroke="#008000" stroke-width="1.3" fill="none"/>
<path d="M1331.8 424.7l7.6 7.6M1331.8 432.3l7.6 -7.6" stroke="#008000" stroke-width="1.3" fill="none"/>
<path d="M1360 425.2l7.6 7.6M1360 432.8l7.6 -7.6" stroke="#008000" stroke-width="1.3" fill="none"/>
<path d="M1388.1 426.2l7.6 7.6M1388.1 433.8l7.6 -7.6" stroke="#008000" stroke-width="1.3" fill="none"/>
<path d="M1416.3 426.7l7.6 7.6M1416.3 434.3l7.6 -7.6" stroke="#008000" stroke-width="1.3" fill="none"/>
<path d="M1444.5 425.7l7.6 7.6M1444.5 433.3l7.6 -7.6" stroke="#008000" stroke-width="1.3" fill="none"/>
<path d="M1472.7 427.2l7.6 7.6M1472.7 434.8l7.6 -7.6" stroke="#008000" stroke-width="1.3" fill="none"/>
<path d="M1500.9 426.7l7.6 7.6M1500.9 434.3l7.6 -7.6" stroke="#008000" stroke-width="1.3" fill="none"/>
<path d="M1529.1 427.2l7.6 7.6M1529.1 434.8l7.6 -7.6" stroke="#008000" stroke-width="1.3" fill="none"/>
<path d="M1557.3 426.7l7.6 7.6M1557.3 434.3l7.6 -7.6" stroke="#008000" stroke-width="1.3" fill="none"/>
<path d="M1585.5 425.7l7.6 7.6M1585.5 433.3l7.6 -7.6" stroke="#008000" stroke-width="1.3" fill="none"/>
<path d="M1613.7 423.7l7.6 7.6M1613.7 431.3l7.6 -7.6" stroke="#008000" stroke-width="1.3" fill="none"/>
</g>
<path d="M933.9 388.4H947.9V461.8H933.9ZM962 383.3H976.1V478.3H962ZM990.2 390.4H1004.3V466.2H990.2ZM1018.4 394.4H1032.5V476.6H1018.4ZM1046.6 393.5H1060.7V460.7H1046.6ZM1074.8 397.4H1088.9V468.4H1074.8ZM1103 390.4H1117.1V471.7H1103ZM1131.2 389.5H1145.3V474.4H1131.2ZM1159.4 387.3H1173.5V479.4H1159.4ZM1187.6 379.4H1201.7V481.2H1187.6ZM1215.8 382.5H1229.8V484.3H1215.8ZM1243.9 377.4H1258V470.6H1243.9ZM1272.1 383.3H1286.2V471.1H1272.1ZM1300.3 388H1314.4V469.5H1300.3ZM1328.5 387.3H1342.6V472.4H1328.5ZM1356.7 388.2H1370.8V469.5H1356.7ZM1384.9 390.2H1399V468.4H1384.9ZM1413.1 386.2H1427.2V468.4H1413.1ZM1441.3 381.4H1455.4V479.4H1441.3ZM1469.5 381.4H1483.6V473.5H1469.5ZM1497.7 381.2H1511.7V470.6H1497.7ZM1525.8 385.3H1539.9V465.6H1525.8ZM1554 383.3H1568.1V461.8H1554ZM1582.2 384.2H1596.3V469.5H1582.2ZM1610.4 382.3H1624.5V480.3H1610.4Z" fill="none" stroke="#ff0000" stroke-opacity="0.5" stroke-width="1.25"/>
<path d="M940.5 388.4V320M940.5 461.8V571.5M937.4 320h7M937.4 571.5h7M969.5 383.3V334M969.5 478.3V582.5M965.6 334h7M965.6 582.5h7M997.5 390.4V340M997.5 466.2V553.5M993.8 340h7M993.8 553.5h7M1025.5 394.4V341M1025.5 476.6V558.5M1021.9 341h7M1021.9 558.5h7M1053.5 393.5V333M1053.5 460.7V555.2M1050.1 333h7M1050.1 555.2h7M1081.5 397.4V320M1081.5 468.4V551.5M1078.3 320h7M1078.3 551.5h7M1110.5 390.4V274.5M1110.5 471.7V563.4M1106.5 274.5h7M1106.5 563.4h7M1138.5 389.5V264.6M1138.5 474.4V570.4M1134.7 264.6h7M1134.7 570.4h7M1166.5 387.3V269.4M1166.5 479.4V562.3M1162.9 269.4h7M1162.9 562.3h7M1194.5 379.4V261.5M1194.5 481.2V548M1191.1 261.5h7M1191.1 548h7M1222.5 382.5V262.4M1222.5 484.3V563M1219.3 262.4h7M1219.3 563h7M1250.5 377.4V248.5M1250.5 470.6V542.5M1247.5 248.5h7M1247.5 542.5h7M1279.5 383.3V316.5M1279.5 471.1V549.3M1275.7 316.5h7M1275.7 549.3h7M1307.5 388V306.4M1307.5 469.5V572.4M1303.8 306.4h7M1303.8 572.4h7M1335.5 387.3V263.5M1335.5 472.4V570.4M1332 263.5h7M1332 570.4h7M1363.5 388.2V268.5M1363.5 469.5V564.5M1360.2 268.5h7M1360.2 564.5h7M1391.5 390.2V287.5M1391.5 468.4V564.5M1388.4 287.5h7M1388.4 564.5h7M1420.5 386.2V299M1420.5 468.4V552.4M1416.6 299h7M1416.6 552.4h7M1448.5 381.4V308.6M1448.5 479.4V540M1444.8 308.6h7M1444.8 540h7M1476.5 381.4V301.6M1476.5 473.5V530M1473 301.6h7M1473 530h7M1504.5 381.2V305.3M1504.5 470.6V538M1501.2 305.3h7M1501.2 538h7M1532.5 385.3V299.6M1532.5 465.6V533M1529.4 299.6h7M1529.4 533h7M1561.5 383.3V289.5M1561.5 461.8V541M1557.6 289.5h7M1557.6 541h7M1589.5 384.2V284.8M1589.5 469.5V545M1585.7 284.8h7M1585.7 545h7M1617.5 382.3V284.4M1617.5 480.3V544M1613.9 284.4h7M1613.9 544h7" fill="none" stroke="#ff0000" stroke-opacity="0.5" stroke-width="1.4" stroke-linecap="square"/>
<g fill="#ff0000" fill-opacity="0.5">
<circle cx="940.9" cy="259.5" r="3.5"/>
<circle cx="940.9" cy="142.5" r="3.5"/>
<circle cx="969.1" cy="234.4" r="3.5"/>
<circle cx="969.1" cy="143.6" r="3.5"/>
<circle cx="997.3" cy="245.4" r="3.5"/>
<circle cx="997.3" cy="127.5" r="3.5"/>
<circle cx="1025.5" cy="240.6" r="3.5"/>
<circle cx="1025.5" cy="124.5" r="3.5"/>
<circle cx="1053.7" cy="246.3" r="3.5"/>
<circle cx="1053.7" cy="576.6" r="3.5"/>
<circle cx="1053.7" cy="122.5" r="3.5"/>
<circle cx="1081.8" cy="253.3" r="3.5"/>
<circle cx="1081.8" cy="137.4" r="3.5"/>
<circle cx="1110" cy="130.4" r="3.5"/>
<circle cx="1138.2" cy="121.4" r="3.5"/>
<circle cx="1166.4" cy="133.5" r="3.5"/>
<circle cx="1194.6" cy="107.5" r="3.5"/>
<circle cx="1222.8" cy="101.6" r="3.5"/>
<circle cx="1251" cy="81.5" r="3.5"/>
<circle cx="1279.2" cy="231.5" r="3.5"/>
<circle cx="1279.2" cy="82.4" r="3.5"/>
<circle cx="1307.4" cy="242.6" r="3.5"/>
<circle cx="1307.4" cy="89.4" r="3.5"/>
<circle cx="1335.6" cy="76.5" r="3.5"/>
<circle cx="1363.8" cy="67.4" r="3.5"/>
<circle cx="1391.9" cy="70.5" r="3.5"/>
<circle cx="1420.1" cy="81.5" r="3.5"/>
<circle cx="1448.3" cy="86.4" r="3.5"/>
<circle cx="1476.5" cy="75.4" r="3.5"/>
<circle cx="1504.7" cy="73.4" r="3.5"/>
<circle cx="1532.9" cy="59.3" r="3.5"/>
<circle cx="1561.1" cy="64.3" r="3.5"/>
<circle cx="1589.3" cy="61.5" r="3.5"/>
<circle cx="1617.5" cy="64.3" r="3.5"/>
</g>
<path d="M940.9 423.6L969.1 424.5L997.3 424.2L1025.5 426.6L1053.7 425.8L1081.8 425L1110 425.8L1138.2 425.5L1166.4 424.6L1194.6 424.2L1222.8 424.5L1251 423.2L1279.2 424L1307.4 423.5L1335.6 423L1363.8 422.5L1391.9 421.5L1420.1 420L1448.3 419.5L1476.5 419L1504.7 421L1532.9 420L1561.1 422L1589.3 423.5L1617.5 424" fill="none" stroke="#ff0000" stroke-opacity="0.7" stroke-width="2.8" stroke-linejoin="round"/>
<g opacity="0.7">
<path d="M940.9 418.6L945.6 428.1L936.1 428.1Z" fill="#ff0000"/>
<path d="M969.1 419.4L973.8 428.9L964.3 428.9Z" fill="#ff0000"/>
<path d="M997.3 419.1L1002 428.6L992.5 428.6Z" fill="#ff0000"/>
<path d="M1025.5 421.6L1030.2 431.1L1020.7 431.1Z" fill="#ff0000"/>
<path d="M1053.7 420.8L1058.4 430.2L1048.9 430.2Z" fill="#ff0000"/>
<path d="M1081.8 419.9L1086.6 429.4L1077.1 429.4Z" fill="#ff0000"/>
<path d="M1110 420.8L1114.8 430.2L1105.3 430.2Z" fill="#ff0000"/>
<path d="M1138.2 420.4L1143 429.9L1133.5 429.9Z" fill="#ff0000"/>
<path d="M1166.4 419.6L1171.2 429.1L1161.7 429.1Z" fill="#ff0000"/>
<path d="M1194.6 419.1L1199.4 428.6L1189.9 428.6Z" fill="#ff0000"/>
<path d="M1222.8 419.4L1227.5 428.9L1218 428.9Z" fill="#ff0000"/>
<path d="M1251 418.1L1255.7 427.6L1246.2 427.6Z" fill="#ff0000"/>
<path d="M1279.2 418.9L1283.9 428.4L1274.4 428.4Z" fill="#ff0000"/>
<path d="M1307.4 418.4L1312.1 427.9L1302.6 427.9Z" fill="#ff0000"/>
<path d="M1335.6 417.9L1340.3 427.4L1330.8 427.4Z" fill="#ff0000"/>
<path d="M1363.8 417.4L1368.5 426.9L1359 426.9Z" fill="#ff0000"/>
<path d="M1391.9 416.4L1396.7 425.9L1387.2 425.9Z" fill="#ff0000"/>
<path d="M1420.1 414.9L1424.9 424.4L1415.4 424.4Z" fill="#ff0000"/>
<path d="M1448.3 414.4L1453.1 423.9L1443.6 423.9Z" fill="#ff0000"/>
<path d="M1476.5 413.9L1481.3 423.4L1471.8 423.4Z" fill="#ff0000"/>
<path d="M1504.7 415.9L1509.5 425.4L1500 425.4Z" fill="#ff0000"/>
<path d="M1532.9 414.9L1537.6 424.4L1528.1 424.4Z" fill="#ff0000"/>
<path d="M1561.1 416.9L1565.8 426.4L1556.3 426.4Z" fill="#ff0000"/>
<path d="M1589.3 418.4L1594 427.9L1584.5 427.9Z" fill="#ff0000"/>
<path d="M1617.5 418.9L1622.2 428.4L1612.7 428.4Z" fill="#ff0000"/>
</g>
<path d="M933.9 388.4H947.9V473H933.9ZM962 394.4H976.1V467H962ZM990.2 395.2H1004.3V463H990.2ZM1018.4 401.4H1032.5V463H1018.4ZM1046.6 397.4H1060.7V461H1046.6ZM1074.8 401.4H1088.9V455H1074.8ZM1103 406.7H1117.1V460H1103ZM1131.2 401.8H1145.3V460H1131.2ZM1159.4 398.5H1173.5V466H1159.4ZM1187.6 398.5H1201.7V465H1187.6ZM1215.8 391.3H1229.8V470H1215.8ZM1243.9 392.4H1258V461H1243.9ZM1272.1 399.4H1286.2V458H1272.1ZM1300.3 387.3H1314.4V467H1300.3ZM1328.5 394.4H1342.6V468H1328.5ZM1356.7 399H1370.8V465H1356.7ZM1384.9 397.5H1399V468H1384.9ZM1413.1 396.3H1427.2V467H1413.1ZM1441.3 397.4H1455.4V470H1441.3ZM1469.5 392H1483.6V463H1469.5ZM1497.7 391.5H1511.7V455H1497.7ZM1525.8 393H1539.9V465H1525.8ZM1554 395H1568.1V462H1554ZM1582.2 395H1596.3V458H1582.2ZM1610.4 396.3H1624.5V465H1610.4Z" fill="none" stroke="#800080" stroke-opacity="0.5" stroke-width="1.25"/>
<path d="M940.5 388.4V318.5M940.5 473V552.4M937.4 318.5h7M937.4 552.4h7M969.5 394.4V311.5M969.5 467V556.3M965.6 311.5h7M965.6 556.3h7M997.5 395.2V304.6M997.5 463V532.5M993.8 304.6h7M993.8 532.5h7M1025.5 401.4V327M1025.5 463V537.4M1021.9 327h7M1021.9 537.4h7M1053.5 397.4V338M1053.5 461V540M1050.1 338h7M1050.1 540h7M1081.5 401.4V320M1081.5 455V520.4M1078.3 320h7M1078.3 520.4h7M1110.5 406.7V346M1110.5 460V532.5M1106.5 346h7M1106.5 532.5h7M1138.5 401.8V348M1138.5 460V546.4M1134.7 348h7M1134.7 546.4h7M1166.5 398.5V319M1166.5 466V562.3M1162.9 319h7M1162.9 562.3h7M1194.5 398.5V334M1194.5 465V556.3M1191.1 334h7M1191.1 556.3h7M1222.5 391.3V321M1222.5 470V563M1219.3 321h7M1219.3 563h7M1250.5 392.4V320M1250.5 461V549.3M1247.5 320h7M1247.5 549.3h7M1279.5 399.4V310.6M1279.5 458V518M1275.7 310.6h7M1275.7 518h7M1307.5 387.3V321M1307.5 467V578.3M1303.8 321h7M1303.8 578.3h7M1335.5 394.4V306.4M1335.5 468V546.4M1332 306.4h7M1332 546.4h7M1363.5 399V342M1363.5 465V512M1360.2 342h7M1360.2 512h7M1391.5 397.5V315.4M1391.5 468V538M1388.4 315.4h7M1388.4 538h7M1420.5 396.3V322M1420.5 467V543M1416.6 322h7M1416.6 543h7M1448.5 397.4V327M1448.5 470V562.3M1444.8 327h7M1444.8 562.3h7M1476.5 392V327M1476.5 463V566.5M1473 327h7M1473 566.5h7M1504.5 391.5V328M1504.5 455V530M1501.2 328h7M1501.2 530h7M1532.5 393V350M1532.5 465V543M1529.4 350h7M1529.4 543h7M1561.5 395V314.6M1561.5 462V546M1557.6 314.6h7M1557.6 546h7M1589.5 395V318M1589.5 458V535M1585.7 318h7M1585.7 535h7M1617.5 396.3V315.4M1617.5 465V548M1613.9 315.4h7M1613.9 548h7" fill="none" stroke="#800080" stroke-opacity="0.5" stroke-width="1.4" stroke-linecap="square"/>
<g fill="#800080" fill-opacity="0.5">
<circle cx="940.9" cy="171.4" r="3.5"/>
<circle cx="969.1" cy="211" r="3.5"/>
<circle cx="997.3" cy="552.5" r="3.5"/>
<circle cx="997.3" cy="188.4" r="3.5"/>
<circle cx="1025.5" cy="240.6" r="3.5"/>
<circle cx="1025.5" cy="269.4" r="3.5"/>
<circle cx="1025.5" cy="295.4" r="3.5"/>
<circle cx="1025.5" cy="545" r="3.5"/>
<circle cx="1025.5" cy="177.2" r="3.5"/>
<circle cx="1053.7" cy="295.4" r="3.5"/>
<circle cx="1053.7" cy="300" r="3.5"/>
<circle cx="1053.7" cy="545.5" r="3.5"/>
<circle cx="1053.7" cy="171.4" r="3.5"/>
<circle cx="1081.8" cy="281.5" r="3.5"/>
<circle cx="1081.8" cy="567.5" r="3.5"/>
<circle cx="1081.8" cy="233.3" r="3.5"/>
<circle cx="1110" cy="277.6" r="3.5"/>
<circle cx="1110" cy="554.3" r="3.5"/>
<circle cx="1110" cy="212.4" r="3.5"/>
<circle cx="1138.2" cy="294.3" r="3.5"/>
<circle cx="1138.2" cy="182.5" r="3.5"/>
<circle cx="1166.4" cy="189.3" r="3.5"/>
<circle cx="1194.6" cy="189.3" r="3.5"/>
<circle cx="1222.8" cy="186.4" r="3.5"/>
<circle cx="1251" cy="564.6" r="3.5"/>
<circle cx="1251" cy="202.3" r="3.5"/>
<circle cx="1279.2" cy="567.3" r="3.5"/>
<circle cx="1279.2" cy="567.3" r="3.5"/>
<circle cx="1279.2" cy="227" r="3.5"/>
<circle cx="1307.4" cy="322.4" r="3.5"/>
<circle cx="1307.4" cy="222.5" r="3.5"/>
<circle cx="1335.6" cy="584.5" r="3.5"/>
<circle cx="1335.6" cy="589.6" r="3.5"/>
<circle cx="1335.6" cy="225.4" r="3.5"/>
<circle cx="1363.8" cy="303.5" r="3.5"/>
<circle cx="1363.8" cy="567.3" r="3.5"/>
<circle cx="1363.8" cy="577.5" r="3.5"/>
<circle cx="1363.8" cy="586" r="3.5"/>
<circle cx="1363.8" cy="236.4" r="3.5"/>
<circle cx="1391.9" cy="570.4" r="3.5"/>
<circle cx="1391.9" cy="577.5" r="3.5"/>
<circle cx="1391.9" cy="593.3" r="3.5"/>
<circle cx="1391.9" cy="226.5" r="3.5"/>
<circle cx="1420.1" cy="590.5" r="3.5"/>
<circle cx="1420.1" cy="597.5" r="3.5"/>
<circle cx="1420.1" cy="234.4" r="3.5"/>
<circle cx="1448.3" cy="580.3" r="3.5"/>
<circle cx="1448.3" cy="610.5" r="3.5"/>
<circle cx="1448.3" cy="228.5" r="3.5"/>
<circle cx="1476.5" cy="574.4" r="3.5"/>
<circle cx="1476.5" cy="596.4" r="3.5"/>
<circle cx="1476.5" cy="222.5" r="3.5"/>
<circle cx="1504.7" cy="566.5" r="3.5"/>
<circle cx="1504.7" cy="582.5" r="3.5"/>
<circle cx="1504.7" cy="619.5" r="3.5"/>
<circle cx="1504.7" cy="213.5" r="3.5"/>
<circle cx="1532.9" cy="566.5" r="3.5"/>
<circle cx="1532.9" cy="593.3" r="3.5"/>
<circle cx="1532.9" cy="603.4" r="3.5"/>
<circle cx="1532.9" cy="209.3" r="3.5"/>
<circle cx="1561.1" cy="567.3" r="3.5"/>
<circle cx="1561.1" cy="590.5" r="3.5"/>
<circle cx="1561.1" cy="597.5" r="3.5"/>
<circle cx="1561.1" cy="202.3" r="3.5"/>
<circle cx="1589.3" cy="564.5" r="3.5"/>
<circle cx="1589.3" cy="585.4" r="3.5"/>
<circle cx="1589.3" cy="607.4" r="3.5"/>
<circle cx="1589.3" cy="189.3" r="3.5"/>
<circle cx="1617.5" cy="586.5" r="3.5"/>
<circle cx="1617.5" cy="609.4" r="3.5"/>
<circle cx="1617.5" cy="188.4" r="3.5"/>
</g>
<path d="M940.9 428.5L969.1 424.4L997.3 423.6L1025.5 420L1053.7 421.7L1081.8 424L1110 425L1138.2 425L1166.4 426.5L1194.6 427L1222.8 426.5L1251 427.5L1279.2 428L1307.4 430.2L1335.6 430.5L1363.8 432L1391.9 432.5L1420.1 433.5L1448.3 435L1476.5 434.5L1504.7 433.5L1532.9 433.5L1561.1 433L1589.3 433L1617.5 433" fill="none" stroke="#800080" stroke-opacity="0.7" stroke-width="2.8" stroke-linejoin="round"/>
<g opacity="0.7">
<path d="M940.9 433.6L945.6 424.1L936.1 424.1Z" fill="#800080"/>
<path d="M969.1 429.4L973.8 419.9L964.3 419.9Z" fill="#800080"/>
<path d="M997.3 428.7L1002 419.2L992.5 419.2Z" fill="#800080"/>
<path d="M1025.5 425.1L1030.2 415.6L1020.7 415.6Z" fill="#800080"/>
<path d="M1053.7 426.8L1058.4 417.2L1048.9 417.2Z" fill="#800080"/>
<path d="M1081.8 429.1L1086.6 419.6L1077.1 419.6Z" fill="#800080"/>
<path d="M1110 430.1L1114.8 420.6L1105.3 420.6Z" fill="#800080"/>
<path d="M1138.2 430.1L1143 420.6L1133.5 420.6Z" fill="#800080"/>
<path d="M1166.4 431.6L1171.2 422.1L1161.7 422.1Z" fill="#800080"/>
<path d="M1194.6 432.1L1199.4 422.6L1189.9 422.6Z" fill="#800080"/>
<path d="M1222.8 431.6L1227.5 422.1L1218 422.1Z" fill="#800080"/>
<path d="M1251 432.6L1255.7 423.1L1246.2 423.1Z" fill="#800080"/>
<path d="M1279.2 433.1L1283.9 423.6L1274.4 423.6Z" fill="#800080"/>
<path d="M1307.4 435.2L1312.1 425.8L1302.6 425.8Z" fill="#800080"/>
<path d="M1335.6 435.6L1340.3 426.1L1330.8 426.1Z" fill="#800080"/>
<path d="M1363.8 437.1L1368.5 427.6L1359 427.6Z" fill="#800080"/>
<path d="M1391.9 437.6L1396.7 428.1L1387.2 428.1Z" fill="#800080"/>
<path d="M1420.1 438.6L1424.9 429.1L1415.4 429.1Z" fill="#800080"/>
<path d="M1448.3 440.1L1453.1 430.6L1443.6 430.6Z" fill="#800080"/>
<path d="M1476.5 439.6L1481.3 430.1L1471.8 430.1Z" fill="#800080"/>
<path d="M1504.7 438.6L1509.5 429.1L1500 429.1Z" fill="#800080"/>
<path d="M1532.9 438.6L1537.6 429.1L1528.1 429.1Z" fill="#800080"/>
<path d="M1561.1 438.1L1565.8 428.6L1556.3 428.6Z" fill="#800080"/>
<path d="M1589.3 438.1L1594 428.6L1584.5 428.6Z" fill="#800080"/>
<path d="M1617.5 438.1L1622.2 428.6L1612.7 428.6Z" fill="#800080"/>
</g>
<path d="M933.4 439.9H948.4M961.5 444.3H976.6M989.7 443.4H1004.8M1017.9 439H1033M1046.1 434.2H1061.2M1074.3 436.4H1089.4M1102.5 436.4H1117.6M1130.7 441.6H1145.8M1158.9 439.4H1174M1187.1 436.4H1202.2M1215.3 436.4H1230.3M1243.4 445.2H1258.5M1271.6 436H1286.7M1299.8 439.8H1314.9M1328 436.5H1343.1M1356.2 436.5H1371.3M1384.4 434.3H1399.5M1412.6 433.2H1427.7M1440.8 438.7H1455.9M1469 433.2H1484.1M1497.2 436.5H1512.2M1525.3 436.5H1540.4M1553.5 434.3H1568.6M1581.7 434.3H1596.8M1609.9 436.5H1625M933.4 442.3H948.4M961.5 455.3H976.6M989.7 450.4H1004.8M1017.9 446.4H1033M1046.1 447.4H1061.2M1074.3 437.9H1089.4M1102.5 441.3H1117.6M1130.7 443.5H1145.8M1158.9 447.4H1174M1187.1 452.6H1202.2M1215.3 444.5H1230.3M1243.4 449.3H1258.5M1271.6 448.2H1286.7M1299.8 444.2H1314.9M1328 443.1H1343.1M1356.2 441.4H1371.3M1384.4 437.6H1399.5M1412.6 437.6H1427.7M1440.8 441.4H1455.9M1469 438.7H1484.1M1497.2 438.7H1512.2M1525.3 440.5H1540.4M1553.5 437.6H1568.6M1581.7 438.7H1596.8M1609.9 442.5H1625M933.4 431.4H948.4M961.5 435.3H976.6M989.7 437H1004.8M1017.9 431.9H1033M1046.1 430.5H1061.2M1074.3 434.2H1089.4M1102.5 432H1117.6M1130.7 433.2H1145.8M1158.9 432.8H1174M1187.1 433.5H1202.2M1215.3 432.3H1230.3M1243.4 436.4H1258.5M1271.6 433H1286.7M1299.8 434.3H1314.9M1328 433.2H1343.1M1356.2 432.1H1371.3M1384.4 432.1H1399.5M1412.6 433.2H1427.7M1440.8 435.4H1455.9M1469 433.2H1484.1M1497.2 433.2H1512.2M1525.3 431H1540.4M1553.5 434.3H1568.6M1581.7 434.3H1596.8M1609.9 429.9H1625M933.4 427.5H948.4M961.5 426.3H976.6M989.7 429.5H1004.8M1017.9 431.9H1033M1046.1 430.5H1061.2M1074.3 430.5H1089.4M1102.5 432H1117.6M1130.7 433.2H1145.8M1158.9 432.8H1174M1187.1 425.4H1202.2M1215.3 429H1230.3M1243.4 432.3H1258.5M1271.6 429H1286.7M1299.8 429.9H1314.9M1328 429.9H1343.1M1356.2 429.9H1371.3M1384.4 432.1H1399.5M1412.6 429.9H1427.7M1440.8 428.8H1455.9M1469 423.3H1484.1M1497.2 427.7H1512.2M1525.3 428.8H1540.4M1553.5 429.9H1568.6M1581.7 427.7H1596.8M1609.9 423.3H1625M933.4 439.9H948.4M961.5 420.4H976.6M989.7 423.5H1004.8M1017.9 425H1033M1046.1 427H1061.2M1074.3 430.5H1089.4M1102.5 432H1117.6M1130.7 433.2H1145.8M1158.9 432.8H1174M1187.1 431.3H1202.2M1215.3 432.3H1230.3M1243.4 432.3H1258.5M1271.6 431H1286.7M1299.8 434.3H1314.9M1328 433.2H1343.1M1356.2 432.1H1371.3M1384.4 434.3H1399.5M1412.6 433.2H1427.7M1440.8 435.4H1455.9M1469 429.9H1484.1M1497.2 429.9H1512.2M1525.3 431H1540.4M1553.5 432.1H1568.6M1581.7 429.9H1596.8M1609.9 427.7H1625" fill="none" stroke="#ff7f0e" stroke-width="1.4"/>
<path d="M940.5 647.7v4.8M969.5 647.7v4.8M997.5 647.7v4.8M1025.5 647.7v4.8M1053.5 647.7v4.8M1081.5 647.7v4.8M1110.5 647.7v4.8M1138.5 647.7v4.8M1166.5 647.7v4.8M1194.5 647.7v4.8M1222.5 647.7v4.8M1250.5 647.7v4.8M1279.5 647.7v4.8M1307.5 647.7v4.8M1335.5 647.7v4.8M1363.5 647.7v4.8M1391.5 647.7v4.8M1420.5 647.7v4.8M1448.5 647.7v4.8M1476.5 647.7v4.8M1504.5 647.7v4.8M1532.5 647.7v4.8M1561.5 647.7v4.8M1589.5 647.7v4.8M1617.5 647.7v4.8M925.8 48.5h-4.1M925.8 176.5h-4.1M925.8 303.5h-4.1M925.8 431.5h-4.1M925.8 558.5h-4.1" stroke="#000" stroke-width="1.1" fill="none"/>
<text x="917" y="53.6" text-anchor="end" textLength="29.6" lengthAdjust="spacingAndGlyphs" class="t">0.15</text>
<text x="917" y="181.6" text-anchor="end" textLength="29.6" lengthAdjust="spacingAndGlyphs" class="t">0.10</text>
<text x="917" y="308.6" text-anchor="end" textLength="29.6" lengthAdjust="spacingAndGlyphs" class="t">0.05</text>
<text x="917" y="436.6" text-anchor="end" textLength="29.6" lengthAdjust="spacingAndGlyphs" class="t">0.00</text>
<text x="917" y="563.6" text-anchor="end" textLength="41.4" lengthAdjust="spacingAndGlyphs" class="t">−0.05</text>
<text transform="translate(944 659.8) rotate(-90)" text-anchor="end" textLength="61.0" lengthAdjust="spacingAndGlyphs" class="t">01:30:00</text>
<text transform="translate(973 659.8) rotate(-90)" text-anchor="end" textLength="61.0" lengthAdjust="spacingAndGlyphs" class="t">01:40:00</text>
<text transform="translate(1001 659.8) rotate(-90)" text-anchor="end" textLength="61.0" lengthAdjust="spacingAndGlyphs" class="t">01:50:00</text>
<text transform="translate(1029 659.8) rotate(-90)" text-anchor="end" textLength="61.0" lengthAdjust="spacingAndGlyphs" class="t">02:00:00</text>
<text transform="translate(1057 659.8) rotate(-90)" text-anchor="end" textLength="61.0" lengthAdjust="spacingAndGlyphs" class="t">02:10:00</text>
<text transform="translate(1085 659.8) rotate(-90)" text-anchor="end" textLength="61.0" lengthAdjust="spacingAndGlyphs" class="t">02:20:00</text>
<text transform="translate(1114 659.8) rotate(-90)" text-anchor="end" textLength="61.0" lengthAdjust="spacingAndGlyphs" class="t">02:30:00</text>
<text transform="translate(1142 659.8) rotate(-90)" text-anchor="end" textLength="61.0" lengthAdjust="spacingAndGlyphs" class="t">02:40:00</text>
<text transform="translate(1170 659.8) rotate(-90)" text-anchor="end" textLength="61.0" lengthAdjust="spacingAndGlyphs" class="t">02:50:00</text>
<text transform="translate(1198 659.8) rotate(-90)" text-anchor="end" textLength="61.0" lengthAdjust="spacingAndGlyphs" class="t">03:00:00</text>
<text transform="translate(1226 659.8) rotate(-90)" text-anchor="end" textLength="61.0" lengthAdjust="spacingAndGlyphs" class="t">03:10:00</text>
<text transform="translate(1254 659.8) rotate(-90)" text-anchor="end" textLength="61.0" lengthAdjust="spacingAndGlyphs" class="t">03:20:00</text>
<text transform="translate(1283 659.8) rotate(-90)" text-anchor="end" textLength="61.0" lengthAdjust="spacingAndGlyphs" class="t">05:00:00</text>
<text transform="translate(1311 659.8) rotate(-90)" text-anchor="end" textLength="61.0" lengthAdjust="spacingAndGlyphs" class="t">05:10:00</text>
<text transform="translate(1339 659.8) rotate(-90)" text-anchor="end" textLength="61.0" lengthAdjust="spacingAndGlyphs" class="t">05:20:00</text>
<text transform="translate(1367 659.8) rotate(-90)" text-anchor="end" textLength="61.0" lengthAdjust="spacingAndGlyphs" class="t">05:30:00</text>
<text transform="translate(1395 659.8) rotate(-90)" text-anchor="end" textLength="61.0" lengthAdjust="spacingAndGlyphs" class="t">05:40:00</text>
<text transform="translate(1424 659.8) rotate(-90)" text-anchor="end" textLength="61.0" lengthAdjust="spacingAndGlyphs" class="t">05:50:00</text>
<text transform="translate(1452 659.8) rotate(-90)" text-anchor="end" textLength="61.0" lengthAdjust="spacingAndGlyphs" class="t">06:00:00</text>
<text transform="translate(1480 659.8) rotate(-90)" text-anchor="end" textLength="61.0" lengthAdjust="spacingAndGlyphs" class="t">06:10:00</text>
<text transform="translate(1508 659.8) rotate(-90)" text-anchor="end" textLength="61.0" lengthAdjust="spacingAndGlyphs" class="t">06:20:00</text>
<text transform="translate(1536 659.8) rotate(-90)" text-anchor="end" textLength="61.0" lengthAdjust="spacingAndGlyphs" class="t">06:30:00</text>
<text transform="translate(1565 659.8) rotate(-90)" text-anchor="end" textLength="61.0" lengthAdjust="spacingAndGlyphs" class="t">06:40:00</text>
<text transform="translate(1593 659.8) rotate(-90)" text-anchor="end" textLength="61.0" lengthAdjust="spacingAndGlyphs" class="t">06:50:00</text>
<text transform="translate(1621 659.8) rotate(-90)" text-anchor="end" textLength="61.0" lengthAdjust="spacingAndGlyphs" class="t">07:00:00</text>
<rect x="1494.6" y="38.3" width="129.8" height="108.8" rx="2.8" fill="#fff" fill-opacity="0.8" stroke="#ccc" stroke-width="1.1"/>
<path d="M1498.2 50H1528.7" stroke="#0000ff" stroke-opacity="0.7" stroke-width="2.7"/><g opacity="0.7"><rect x="1509" y="45.5" width="8.9" height="8.9" fill="#0000ff"/></g>
<text x="1538" y="55" textLength="53.2" lengthAdjust="spacingAndGlyphs" class="t">Monday</text>
<path d="M1498.2 71H1528.7" stroke="#ffa500" stroke-opacity="0.7" stroke-width="2.7"/><g opacity="0.7"><path d="M1509.3 71h8.4M1513.5 66.8v8.4" stroke="#ffa500" stroke-width="1.3" fill="none"/></g>
<text x="1538" y="76" textLength="56.3" lengthAdjust="spacingAndGlyphs" class="t">Tuesday</text>
<path d="M1498.2 92.1H1528.7" stroke="#008000" stroke-opacity="0.7" stroke-width="2.7"/><g opacity="0.7"><path d="M1509.7 88.3l7.6 7.6M1509.7 95.9l7.6 -7.6" stroke="#008000" stroke-width="1.3" fill="none"/></g>
<text x="1538" y="97.1" textLength="78.7" lengthAdjust="spacingAndGlyphs" class="t">Wednesday</text>
<path d="M1498.2 113.1H1528.7" stroke="#ff0000" stroke-opacity="0.7" stroke-width="2.7"/><g opacity="0.7"><path d="M1513.5 108L1518.2 117.5L1508.8 117.5Z" fill="#ff0000"/></g>
<text x="1538" y="118.1" textLength="64" lengthAdjust="spacingAndGlyphs" class="t">Thursday</text>
<path d="M1498.2 134.1H1528.7" stroke="#800080" stroke-opacity="0.7" stroke-width="2.7"/><g opacity="0.7"><path d="M1513.5 139.2L1518.2 129.7L1508.8 129.7Z" fill="#800080"/></g>
<text x="1538" y="139.1" textLength="41" lengthAdjust="spacingAndGlyphs" class="t">Friday</text>
<text x="1278.6" y="23" text-anchor="middle" textLength="468.6" lengthAdjust="spacingAndGlyphs" class="ti">Inter-Day Return Grouped by Day of Week</text>
<text x="1278.5" y="736.8" text-anchor="middle" textLength="108.5" lengthAdjust="spacingAndGlyphs" class="lb">Time (GMT)</text>
<text transform="translate(864.2 340.2) rotate(-90)" text-anchor="middle" textLength="158" lengthAdjust="spacingAndGlyphs" class="lb">Inter-Day Return</text>
</svg>
</body></html>
